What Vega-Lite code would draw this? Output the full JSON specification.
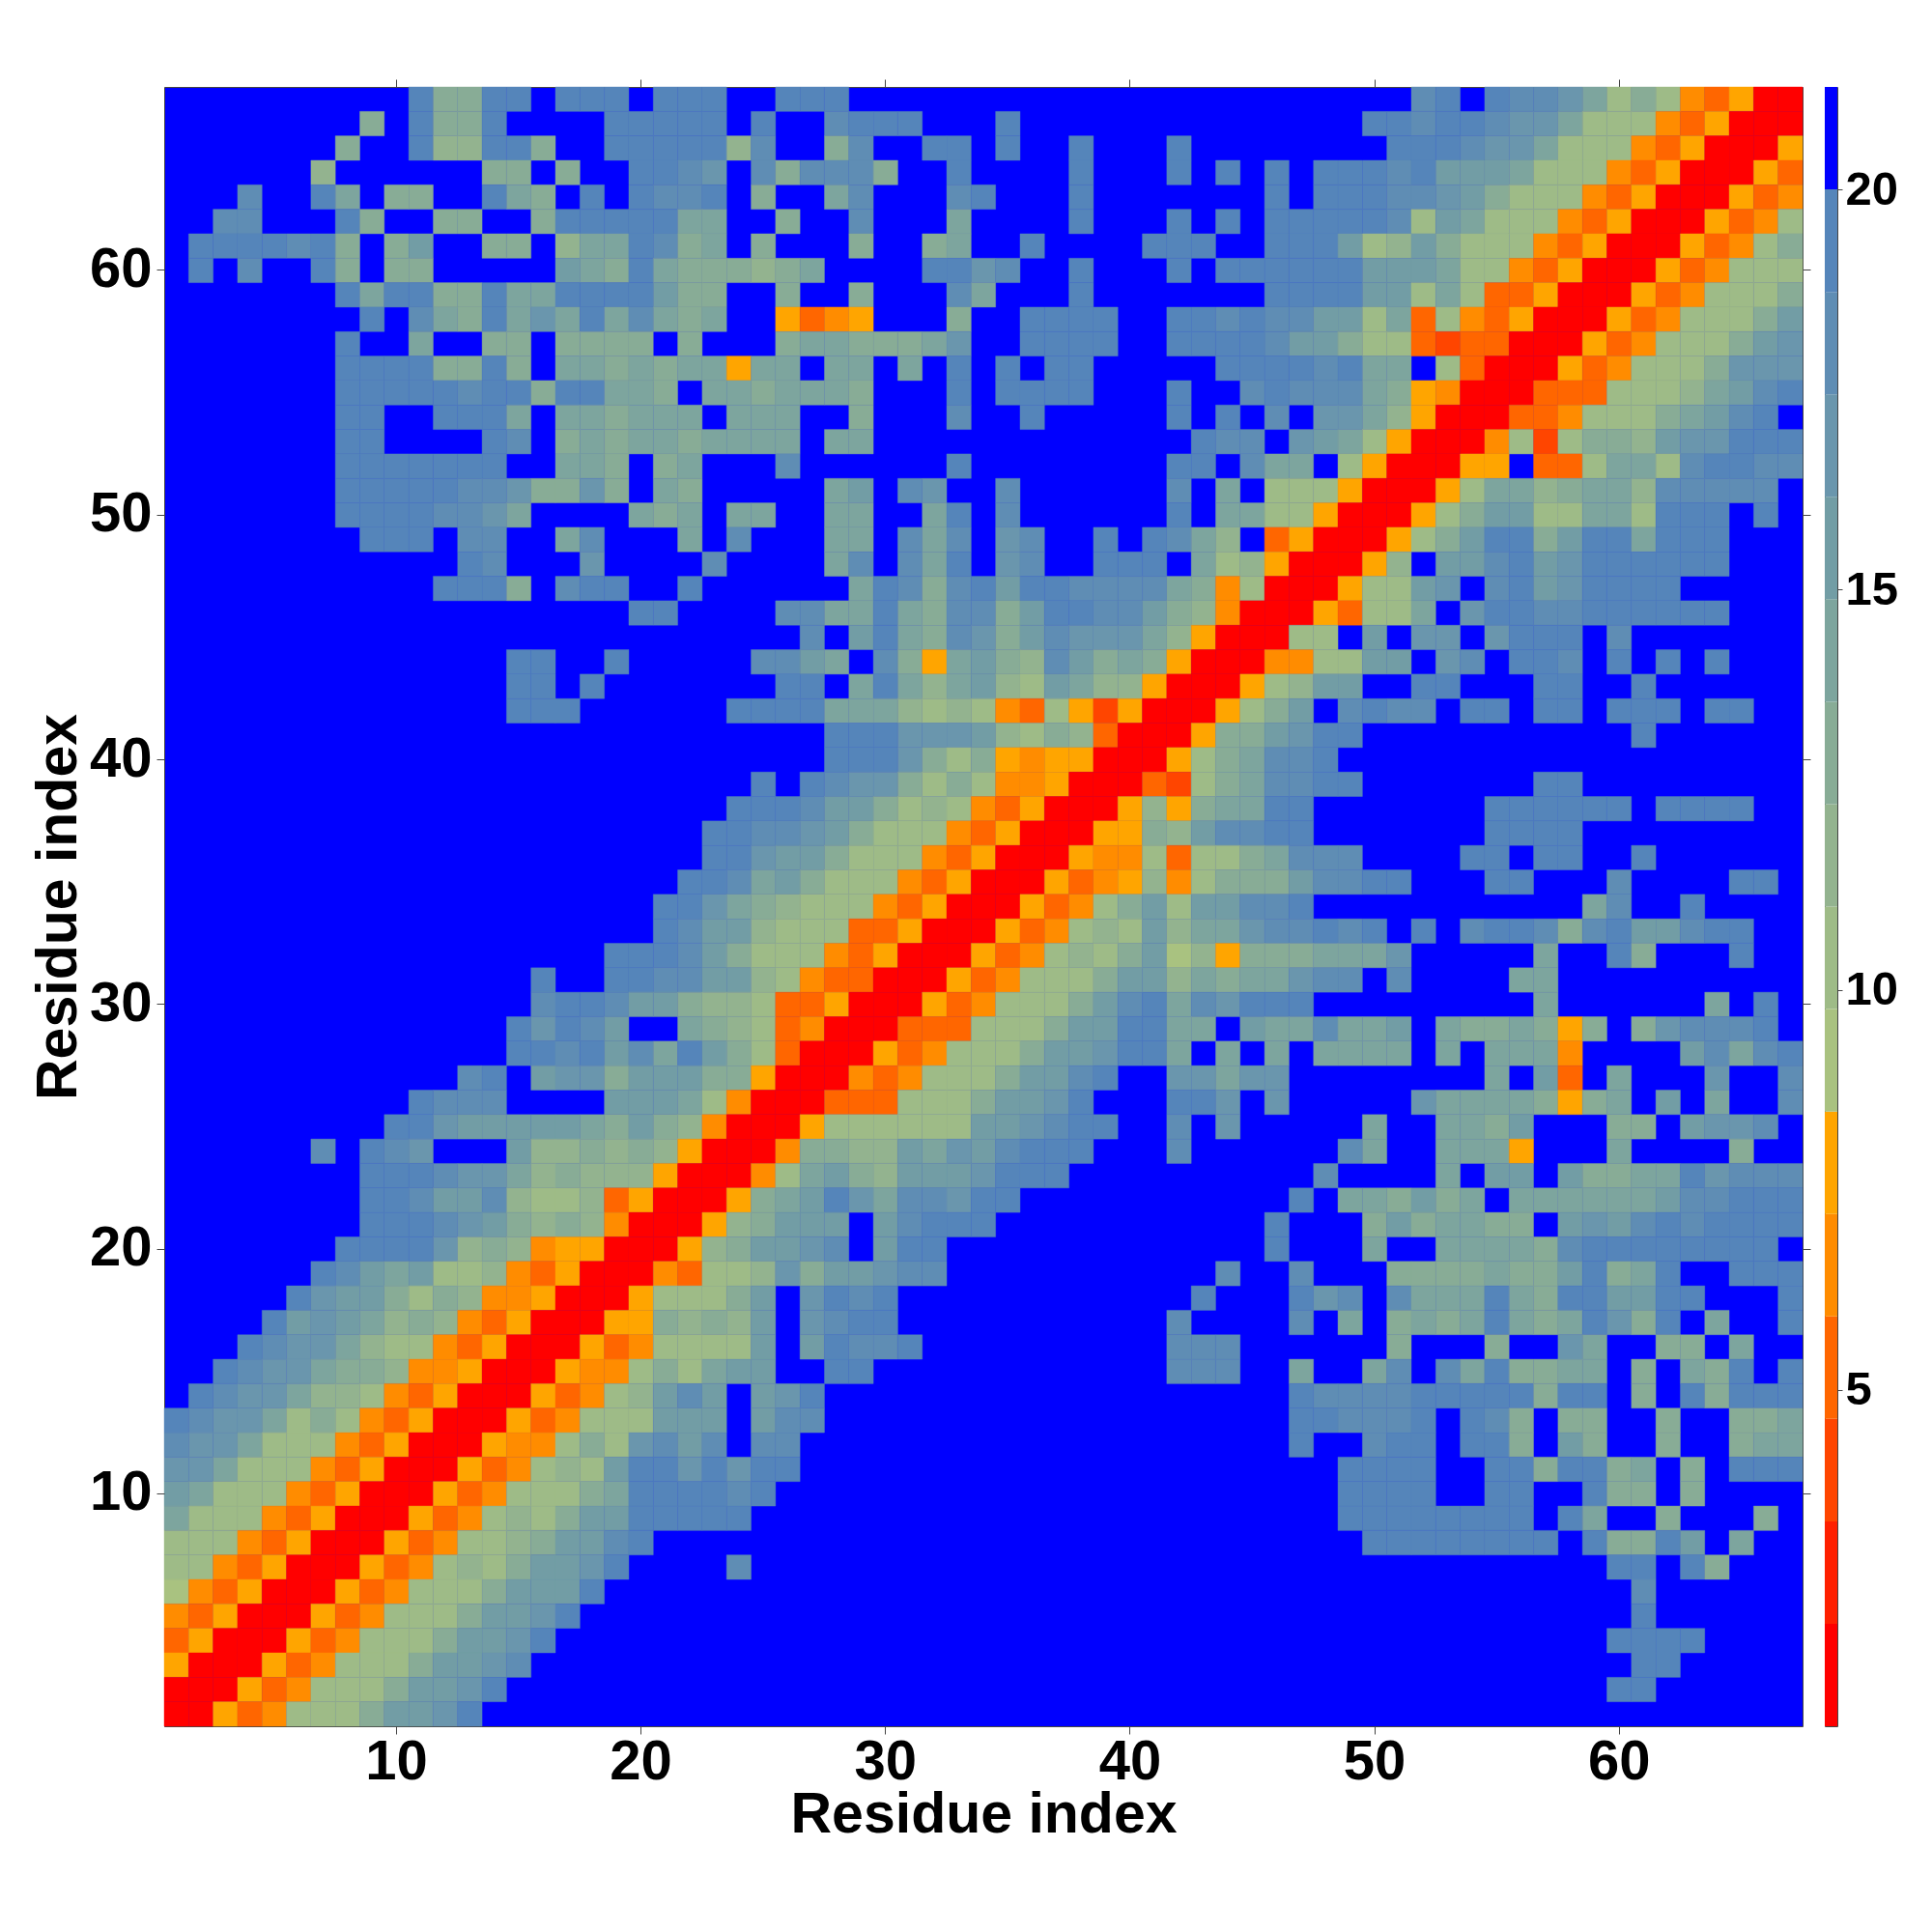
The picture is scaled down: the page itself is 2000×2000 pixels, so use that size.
{"$schema":"https://vega.github.io/schema/vega-lite/v6.json","background":"white","padding":{"left":30,"top":81,"right":0,"bottom":0},"spacing":13,"config":{"view":{"continuousWidth":13},"axis":{"labelFont":"Liberation Sans","titleFont":"Liberation Sans","labelFontWeight":"bold","titleFontWeight":"bold","labelColor":"black","titleColor":"black","tickColor":"#444444","tickWidth":1,"tickSize":8,"domain":false,"grid":false}},"datasets":{"cells":[
{"x":11,"y":67,"v":19},{"x":12,"y":67,"v":13},{"x":13,"y":67,"v":13},{"x":14,"y":67,"v":19},{"x":15,"y":67,"v":19},{"x":17,"y":67,"v":19},{"x":18,"y":67,"v":19},{"x":19,"y":67,"v":19},{"x":21,"y":67,"v":19},{"x":22,"y":67,"v":19},{"x":23,"y":67,"v":19},{"x":26,"y":67,"v":19},{"x":27,"y":67,"v":19},{"x":28,"y":67,"v":19},{"x":52,"y":67,"v":18},{"x":53,"y":67,"v":19},{"x":55,"y":67,"v":19},{"x":56,"y":67,"v":18},{"x":57,"y":67,"v":18},{"x":58,"y":67,"v":17},{"x":59,"y":67,"v":14},{"x":60,"y":67,"v":10},{"x":61,"y":67,"v":13},{"x":62,"y":67,"v":10},{"x":63,"y":67,"v":7},{"x":64,"y":67,"v":5},{"x":65,"y":67,"v":8},{"x":66,"y":67,"v":1},{"x":67,"y":67,"v":1},
{"x":9,"y":66,"v":13},{"x":11,"y":66,"v":19},{"x":12,"y":66,"v":13},{"x":13,"y":66,"v":13},{"x":14,"y":66,"v":19},{"x":19,"y":66,"v":19},{"x":20,"y":66,"v":19},{"x":21,"y":66,"v":19},{"x":22,"y":66,"v":19},{"x":23,"y":66,"v":19},{"x":25,"y":66,"v":19},{"x":28,"y":66,"v":18},{"x":29,"y":66,"v":19},{"x":30,"y":66,"v":19},{"x":31,"y":66,"v":19},{"x":35,"y":66,"v":19},{"x":50,"y":66,"v":19},{"x":51,"y":66,"v":19},{"x":52,"y":66,"v":18},{"x":53,"y":66,"v":19},{"x":54,"y":66,"v":19},{"x":55,"y":66,"v":18},{"x":56,"y":66,"v":17},{"x":57,"y":66,"v":17},{"x":58,"y":66,"v":14},{"x":59,"y":66,"v":10},{"x":60,"y":66,"v":10},{"x":61,"y":66,"v":10},{"x":62,"y":66,"v":7},{"x":63,"y":66,"v":5},{"x":64,"y":66,"v":8},{"x":65,"y":66,"v":1},{"x":66,"y":66,"v":1},{"x":67,"y":66,"v":1},
{"x":8,"y":65,"v":13},{"x":11,"y":65,"v":19},{"x":12,"y":65,"v":12},{"x":13,"y":65,"v":12},{"x":14,"y":65,"v":19},{"x":15,"y":65,"v":19},{"x":16,"y":65,"v":13},{"x":19,"y":65,"v":19},{"x":20,"y":65,"v":19},{"x":21,"y":65,"v":19},{"x":22,"y":65,"v":19},{"x":23,"y":65,"v":19},{"x":24,"y":65,"v":12},{"x":25,"y":65,"v":18},{"x":28,"y":65,"v":13},{"x":29,"y":65,"v":18},{"x":32,"y":65,"v":19},{"x":33,"y":65,"v":19},{"x":35,"y":65,"v":19},{"x":38,"y":65,"v":19},{"x":42,"y":65,"v":19},{"x":51,"y":65,"v":19},{"x":52,"y":65,"v":19},{"x":53,"y":65,"v":19},{"x":54,"y":65,"v":18},{"x":55,"y":65,"v":17},{"x":56,"y":65,"v":17},{"x":57,"y":65,"v":14},{"x":58,"y":65,"v":10},{"x":59,"y":65,"v":10},{"x":60,"y":65,"v":10},{"x":61,"y":65,"v":7},{"x":62,"y":65,"v":5},{"x":63,"y":65,"v":8},{"x":64,"y":65,"v":1},{"x":65,"y":65,"v":1},{"x":66,"y":65,"v":1},{"x":67,"y":65,"v":8},
{"x":7,"y":64,"v":12},{"x":14,"y":64,"v":13},{"x":15,"y":64,"v":13},{"x":17,"y":64,"v":13},{"x":20,"y":64,"v":19},{"x":21,"y":64,"v":19},{"x":22,"y":64,"v":18},{"x":23,"y":64,"v":17},{"x":25,"y":64,"v":18},{"x":26,"y":64,"v":13},{"x":27,"y":64,"v":18},{"x":28,"y":64,"v":18},{"x":29,"y":64,"v":18},{"x":30,"y":64,"v":13},{"x":33,"y":64,"v":19},{"x":38,"y":64,"v":19},{"x":42,"y":64,"v":19},{"x":44,"y":64,"v":19},{"x":46,"y":64,"v":19},{"x":48,"y":64,"v":19},{"x":49,"y":64,"v":19},{"x":50,"y":64,"v":19},{"x":51,"y":64,"v":18},{"x":52,"y":64,"v":19},{"x":53,"y":64,"v":16},{"x":54,"y":64,"v":16},{"x":55,"y":64,"v":16},{"x":56,"y":64,"v":14},{"x":57,"y":64,"v":10},{"x":58,"y":64,"v":10},{"x":59,"y":64,"v":10},{"x":60,"y":64,"v":7},{"x":61,"y":64,"v":5},{"x":62,"y":64,"v":8},{"x":63,"y":64,"v":1},{"x":64,"y":64,"v":1},{"x":65,"y":64,"v":1},{"x":66,"y":64,"v":8},{"x":67,"y":64,"v":5},
{"x":4,"y":63,"v":18},{"x":7,"y":63,"v":19},{"x":8,"y":63,"v":14},{"x":10,"y":63,"v":13},{"x":11,"y":63,"v":13},{"x":14,"y":63,"v":19},{"x":15,"y":63,"v":14},{"x":16,"y":63,"v":13},{"x":18,"y":63,"v":19},{"x":20,"y":63,"v":19},{"x":21,"y":63,"v":18},{"x":22,"y":63,"v":18},{"x":23,"y":63,"v":19},{"x":25,"y":63,"v":13},{"x":28,"y":63,"v":14},{"x":29,"y":63,"v":18},{"x":33,"y":63,"v":18},{"x":34,"y":63,"v":19},{"x":38,"y":63,"v":19},{"x":46,"y":63,"v":19},{"x":48,"y":63,"v":19},{"x":49,"y":63,"v":19},{"x":50,"y":63,"v":19},{"x":51,"y":63,"v":18},{"x":52,"y":63,"v":18},{"x":53,"y":63,"v":17},{"x":54,"y":63,"v":16},{"x":55,"y":63,"v":13},{"x":56,"y":63,"v":10},{"x":57,"y":63,"v":10},{"x":58,"y":63,"v":10},{"x":59,"y":63,"v":7},{"x":60,"y":63,"v":5},{"x":61,"y":63,"v":8},{"x":62,"y":63,"v":1},{"x":63,"y":63,"v":1},{"x":64,"y":63,"v":1},{"x":65,"y":63,"v":8},{"x":66,"y":63,"v":5},{"x":67,"y":63,"v":7},
{"x":3,"y":62,"v":18},{"x":4,"y":62,"v":18},{"x":8,"y":62,"v":19},{"x":9,"y":62,"v":13},{"x":12,"y":62,"v":13},{"x":13,"y":62,"v":13},{"x":16,"y":62,"v":13},{"x":17,"y":62,"v":19},{"x":18,"y":62,"v":19},{"x":19,"y":62,"v":19},{"x":20,"y":62,"v":19},{"x":21,"y":62,"v":19},{"x":22,"y":62,"v":14},{"x":23,"y":62,"v":14},{"x":26,"y":62,"v":13},{"x":29,"y":62,"v":18},{"x":33,"y":62,"v":14},{"x":38,"y":62,"v":19},{"x":42,"y":62,"v":19},{"x":44,"y":62,"v":19},{"x":46,"y":62,"v":19},{"x":47,"y":62,"v":19},{"x":48,"y":62,"v":19},{"x":49,"y":62,"v":19},{"x":50,"y":62,"v":19},{"x":51,"y":62,"v":18},{"x":52,"y":62,"v":10},{"x":53,"y":62,"v":16},{"x":54,"y":62,"v":14},{"x":55,"y":62,"v":10},{"x":56,"y":62,"v":10},{"x":57,"y":62,"v":10},{"x":58,"y":62,"v":7},{"x":59,"y":62,"v":5},{"x":60,"y":62,"v":8},{"x":61,"y":62,"v":1},{"x":62,"y":62,"v":1},{"x":63,"y":62,"v":1},{"x":64,"y":62,"v":8},{"x":65,"y":62,"v":5},{"x":66,"y":62,"v":7},{"x":67,"y":62,"v":10},
{"x":2,"y":61,"v":19},{"x":3,"y":61,"v":19},{"x":4,"y":61,"v":19},{"x":5,"y":61,"v":19},{"x":6,"y":61,"v":18},{"x":7,"y":61,"v":19},{"x":8,"y":61,"v":13},{"x":10,"y":61,"v":13},{"x":11,"y":61,"v":16},{"x":14,"y":61,"v":13},{"x":15,"y":61,"v":13},{"x":17,"y":61,"v":12},{"x":18,"y":61,"v":14},{"x":19,"y":61,"v":14},{"x":20,"y":61,"v":19},{"x":21,"y":61,"v":18},{"x":22,"y":61,"v":13},{"x":23,"y":61,"v":14},{"x":25,"y":61,"v":13},{"x":29,"y":61,"v":13},{"x":32,"y":61,"v":13},{"x":33,"y":61,"v":14},{"x":36,"y":61,"v":19},{"x":41,"y":61,"v":19},{"x":42,"y":61,"v":19},{"x":43,"y":61,"v":19},{"x":46,"y":61,"v":19},{"x":47,"y":61,"v":19},{"x":48,"y":61,"v":19},{"x":49,"y":61,"v":16},{"x":50,"y":61,"v":10},{"x":51,"y":61,"v":12},{"x":52,"y":61,"v":16},{"x":53,"y":61,"v":13},{"x":54,"y":61,"v":10},{"x":55,"y":61,"v":10},{"x":56,"y":61,"v":10},{"x":57,"y":61,"v":7},{"x":58,"y":61,"v":5},{"x":59,"y":61,"v":8},{"x":60,"y":61,"v":1},{"x":61,"y":61,"v":1},{"x":62,"y":61,"v":1},{"x":63,"y":61,"v":8},{"x":64,"y":61,"v":5},{"x":65,"y":61,"v":7},{"x":66,"y":61,"v":10},{"x":67,"y":61,"v":13},
{"x":2,"y":60,"v":19},{"x":4,"y":60,"v":18},{"x":7,"y":60,"v":19},{"x":8,"y":60,"v":13},{"x":10,"y":60,"v":13},{"x":11,"y":60,"v":13},{"x":17,"y":60,"v":16},{"x":18,"y":60,"v":14},{"x":19,"y":60,"v":13},{"x":20,"y":60,"v":19},{"x":21,"y":60,"v":14},{"x":22,"y":60,"v":13},{"x":23,"y":60,"v":13},{"x":24,"y":60,"v":13},{"x":25,"y":60,"v":12},{"x":26,"y":60,"v":13},{"x":27,"y":60,"v":14},{"x":32,"y":60,"v":19},{"x":33,"y":60,"v":19},{"x":34,"y":60,"v":17},{"x":35,"y":60,"v":18},{"x":38,"y":60,"v":19},{"x":42,"y":60,"v":19},{"x":44,"y":60,"v":19},{"x":45,"y":60,"v":19},{"x":46,"y":60,"v":19},{"x":47,"y":60,"v":19},{"x":48,"y":60,"v":19},{"x":49,"y":60,"v":19},{"x":50,"y":60,"v":16},{"x":51,"y":60,"v":16},{"x":52,"y":60,"v":16},{"x":53,"y":60,"v":14},{"x":54,"y":60,"v":10},{"x":55,"y":60,"v":10},{"x":56,"y":60,"v":7},{"x":57,"y":60,"v":5},{"x":58,"y":60,"v":8},{"x":59,"y":60,"v":1},{"x":60,"y":60,"v":1},{"x":61,"y":60,"v":1},{"x":62,"y":60,"v":8},{"x":63,"y":60,"v":5},{"x":64,"y":60,"v":7},{"x":65,"y":60,"v":10},{"x":66,"y":60,"v":10},{"x":67,"y":60,"v":10},
{"x":8,"y":59,"v":19},{"x":9,"y":59,"v":14},{"x":10,"y":59,"v":19},{"x":11,"y":59,"v":19},{"x":12,"y":59,"v":13},{"x":13,"y":59,"v":13},{"x":14,"y":59,"v":19},{"x":15,"y":59,"v":14},{"x":16,"y":59,"v":14},{"x":17,"y":59,"v":19},{"x":18,"y":59,"v":19},{"x":19,"y":59,"v":19},{"x":20,"y":59,"v":19},{"x":21,"y":59,"v":16},{"x":22,"y":59,"v":13},{"x":23,"y":59,"v":13},{"x":26,"y":59,"v":13},{"x":29,"y":59,"v":13},{"x":33,"y":59,"v":18},{"x":34,"y":59,"v":14},{"x":38,"y":59,"v":19},{"x":46,"y":59,"v":19},{"x":47,"y":59,"v":19},{"x":48,"y":59,"v":19},{"x":49,"y":59,"v":19},{"x":50,"y":59,"v":16},{"x":51,"y":59,"v":16},{"x":52,"y":59,"v":10},{"x":53,"y":59,"v":14},{"x":54,"y":59,"v":10},{"x":55,"y":59,"v":5},{"x":56,"y":59,"v":5},{"x":57,"y":59,"v":8},{"x":58,"y":59,"v":1},{"x":59,"y":59,"v":1},{"x":60,"y":59,"v":1},{"x":61,"y":59,"v":8},{"x":62,"y":59,"v":5},{"x":63,"y":59,"v":7},{"x":64,"y":59,"v":10},{"x":65,"y":59,"v":10},{"x":66,"y":59,"v":10},{"x":67,"y":59,"v":13},
{"x":9,"y":58,"v":19},{"x":11,"y":58,"v":18},{"x":12,"y":58,"v":14},{"x":13,"y":58,"v":13},{"x":14,"y":58,"v":19},{"x":15,"y":58,"v":14},{"x":16,"y":58,"v":17},{"x":17,"y":58,"v":14},{"x":18,"y":58,"v":19},{"x":19,"y":58,"v":14},{"x":20,"y":58,"v":18},{"x":21,"y":58,"v":14},{"x":22,"y":58,"v":13},{"x":23,"y":58,"v":14},{"x":26,"y":58,"v":8},{"x":27,"y":58,"v":5},{"x":28,"y":58,"v":7},{"x":29,"y":58,"v":8},{"x":33,"y":58,"v":13},{"x":36,"y":58,"v":19},{"x":37,"y":58,"v":19},{"x":38,"y":58,"v":19},{"x":39,"y":58,"v":19},{"x":42,"y":58,"v":19},{"x":43,"y":58,"v":19},{"x":44,"y":58,"v":18},{"x":45,"y":58,"v":19},{"x":46,"y":58,"v":18},{"x":47,"y":58,"v":18},{"x":48,"y":58,"v":16},{"x":49,"y":58,"v":16},{"x":50,"y":58,"v":10},{"x":51,"y":58,"v":14},{"x":52,"y":58,"v":5},{"x":53,"y":58,"v":10},{"x":54,"y":58,"v":7},{"x":55,"y":58,"v":5},{"x":56,"y":58,"v":8},{"x":57,"y":58,"v":1},{"x":58,"y":58,"v":1},{"x":59,"y":58,"v":1},{"x":60,"y":58,"v":8},{"x":61,"y":58,"v":5},{"x":62,"y":58,"v":7},{"x":63,"y":58,"v":10},{"x":64,"y":58,"v":10},{"x":65,"y":58,"v":10},{"x":66,"y":58,"v":13},{"x":67,"y":58,"v":16},
{"x":8,"y":57,"v":19},{"x":11,"y":57,"v":14},{"x":14,"y":57,"v":13},{"x":15,"y":57,"v":13},{"x":17,"y":57,"v":13},{"x":18,"y":57,"v":13},{"x":19,"y":57,"v":13},{"x":20,"y":57,"v":13},{"x":22,"y":57,"v":13},{"x":26,"y":57,"v":13},{"x":27,"y":57,"v":14},{"x":28,"y":57,"v":14},{"x":29,"y":57,"v":13},{"x":30,"y":57,"v":13},{"x":31,"y":57,"v":13},{"x":32,"y":57,"v":14},{"x":33,"y":57,"v":17},{"x":36,"y":57,"v":19},{"x":37,"y":57,"v":19},{"x":38,"y":57,"v":19},{"x":39,"y":57,"v":19},{"x":42,"y":57,"v":19},{"x":43,"y":57,"v":19},{"x":44,"y":57,"v":19},{"x":45,"y":57,"v":19},{"x":46,"y":57,"v":18},{"x":47,"y":57,"v":16},{"x":48,"y":57,"v":16},{"x":49,"y":57,"v":13},{"x":50,"y":57,"v":10},{"x":51,"y":57,"v":10},{"x":52,"y":57,"v":5},{"x":53,"y":57,"v":4},{"x":54,"y":57,"v":5},{"x":55,"y":57,"v":5},{"x":56,"y":57,"v":1},{"x":57,"y":57,"v":1},{"x":58,"y":57,"v":1},{"x":59,"y":57,"v":8},{"x":60,"y":57,"v":5},{"x":61,"y":57,"v":7},{"x":62,"y":57,"v":10},{"x":63,"y":57,"v":10},{"x":64,"y":57,"v":10},{"x":65,"y":57,"v":13},{"x":66,"y":57,"v":16},{"x":67,"y":57,"v":17},
{"x":8,"y":56,"v":19},{"x":9,"y":56,"v":19},{"x":10,"y":56,"v":19},{"x":11,"y":56,"v":19},{"x":12,"y":56,"v":13},{"x":13,"y":56,"v":13},{"x":14,"y":56,"v":19},{"x":15,"y":56,"v":13},{"x":17,"y":56,"v":14},{"x":18,"y":56,"v":14},{"x":19,"y":56,"v":13},{"x":20,"y":56,"v":14},{"x":21,"y":56,"v":13},{"x":22,"y":56,"v":14},{"x":23,"y":56,"v":14},{"x":24,"y":56,"v":8},{"x":25,"y":56,"v":14},{"x":26,"y":56,"v":14},{"x":28,"y":56,"v":14},{"x":29,"y":56,"v":14},{"x":31,"y":56,"v":14},{"x":33,"y":56,"v":19},{"x":35,"y":56,"v":19},{"x":37,"y":56,"v":19},{"x":38,"y":56,"v":19},{"x":44,"y":56,"v":19},{"x":45,"y":56,"v":19},{"x":46,"y":56,"v":19},{"x":47,"y":56,"v":19},{"x":48,"y":56,"v":18},{"x":49,"y":56,"v":19},{"x":50,"y":56,"v":14},{"x":51,"y":56,"v":14},{"x":53,"y":56,"v":10},{"x":54,"y":56,"v":5},{"x":55,"y":56,"v":1},{"x":56,"y":56,"v":1},{"x":57,"y":56,"v":1},{"x":58,"y":56,"v":8},{"x":59,"y":56,"v":5},{"x":60,"y":56,"v":7},{"x":61,"y":56,"v":10},{"x":62,"y":56,"v":10},{"x":63,"y":56,"v":10},{"x":64,"y":56,"v":13},{"x":65,"y":56,"v":17},{"x":66,"y":56,"v":17},{"x":67,"y":56,"v":17},
{"x":8,"y":55,"v":19},{"x":9,"y":55,"v":19},{"x":10,"y":55,"v":19},{"x":11,"y":55,"v":19},{"x":12,"y":55,"v":19},{"x":13,"y":55,"v":18},{"x":14,"y":55,"v":19},{"x":15,"y":55,"v":19},{"x":16,"y":55,"v":13},{"x":17,"y":55,"v":19},{"x":18,"y":55,"v":19},{"x":19,"y":55,"v":14},{"x":20,"y":55,"v":14},{"x":21,"y":55,"v":13},{"x":23,"y":55,"v":14},{"x":24,"y":55,"v":14},{"x":25,"y":55,"v":13},{"x":26,"y":55,"v":14},{"x":27,"y":55,"v":14},{"x":28,"y":55,"v":14},{"x":29,"y":55,"v":13},{"x":33,"y":55,"v":19},{"x":35,"y":55,"v":19},{"x":36,"y":55,"v":19},{"x":37,"y":55,"v":19},{"x":38,"y":55,"v":19},{"x":42,"y":55,"v":19},{"x":45,"y":55,"v":18},{"x":46,"y":55,"v":19},{"x":47,"y":55,"v":18},{"x":48,"y":55,"v":18},{"x":49,"y":55,"v":18},{"x":50,"y":55,"v":14},{"x":51,"y":55,"v":13},{"x":52,"y":55,"v":8},{"x":53,"y":55,"v":7},{"x":54,"y":55,"v":1},{"x":55,"y":55,"v":1},{"x":56,"y":55,"v":1},{"x":57,"y":55,"v":5},{"x":58,"y":55,"v":5},{"x":59,"y":55,"v":5},{"x":60,"y":55,"v":10},{"x":61,"y":55,"v":10},{"x":62,"y":55,"v":10},{"x":63,"y":55,"v":12},{"x":64,"y":55,"v":14},{"x":65,"y":55,"v":16},{"x":66,"y":55,"v":18},{"x":67,"y":55,"v":19},
{"x":8,"y":54,"v":19},{"x":9,"y":54,"v":19},{"x":12,"y":54,"v":19},{"x":13,"y":54,"v":19},{"x":14,"y":54,"v":19},{"x":15,"y":54,"v":14},{"x":17,"y":54,"v":14},{"x":18,"y":54,"v":14},{"x":19,"y":54,"v":13},{"x":20,"y":54,"v":14},{"x":21,"y":54,"v":14},{"x":22,"y":54,"v":14},{"x":24,"y":54,"v":14},{"x":25,"y":54,"v":14},{"x":26,"y":54,"v":14},{"x":29,"y":54,"v":13},{"x":33,"y":54,"v":18},{"x":36,"y":54,"v":19},{"x":42,"y":54,"v":19},{"x":44,"y":54,"v":19},{"x":46,"y":54,"v":18},{"x":48,"y":54,"v":17},{"x":49,"y":54,"v":17},{"x":50,"y":54,"v":14},{"x":51,"y":54,"v":12},{"x":52,"y":54,"v":8},{"x":53,"y":54,"v":1},{"x":54,"y":54,"v":1},{"x":55,"y":54,"v":1},{"x":56,"y":54,"v":5},{"x":57,"y":54,"v":5},{"x":58,"y":54,"v":7},{"x":59,"y":54,"v":10},{"x":60,"y":54,"v":10},{"x":61,"y":54,"v":10},{"x":62,"y":54,"v":13},{"x":63,"y":54,"v":14},{"x":64,"y":54,"v":16},{"x":65,"y":54,"v":18},{"x":66,"y":54,"v":19},
{"x":8,"y":53,"v":19},{"x":9,"y":53,"v":19},{"x":14,"y":53,"v":19},{"x":15,"y":53,"v":18},{"x":17,"y":53,"v":13},{"x":18,"y":53,"v":14},{"x":19,"y":53,"v":13},{"x":20,"y":53,"v":14},{"x":21,"y":53,"v":14},{"x":22,"y":53,"v":13},{"x":23,"y":53,"v":14},{"x":24,"y":53,"v":14},{"x":25,"y":53,"v":14},{"x":26,"y":53,"v":14},{"x":28,"y":53,"v":14},{"x":29,"y":53,"v":14},{"x":43,"y":53,"v":19},{"x":44,"y":53,"v":18},{"x":45,"y":53,"v":18},{"x":47,"y":53,"v":17},{"x":48,"y":53,"v":16},{"x":49,"y":53,"v":14},{"x":50,"y":53,"v":10},{"x":51,"y":53,"v":8},{"x":52,"y":53,"v":1},{"x":53,"y":53,"v":1},{"x":54,"y":53,"v":1},{"x":55,"y":53,"v":7},{"x":56,"y":53,"v":10},{"x":57,"y":53,"v":4},{"x":58,"y":53,"v":10},{"x":59,"y":53,"v":13},{"x":60,"y":53,"v":13},{"x":61,"y":53,"v":12},{"x":62,"y":53,"v":16},{"x":63,"y":53,"v":17},{"x":64,"y":53,"v":17},{"x":65,"y":53,"v":19},{"x":66,"y":53,"v":19},{"x":67,"y":53,"v":19},
{"x":8,"y":52,"v":19},{"x":9,"y":52,"v":19},{"x":10,"y":52,"v":19},{"x":11,"y":52,"v":19},{"x":12,"y":52,"v":19},{"x":13,"y":52,"v":19},{"x":14,"y":52,"v":19},{"x":17,"y":52,"v":14},{"x":18,"y":52,"v":14},{"x":19,"y":52,"v":13},{"x":21,"y":52,"v":13},{"x":22,"y":52,"v":14},{"x":26,"y":52,"v":18},{"x":33,"y":52,"v":19},{"x":42,"y":52,"v":19},{"x":43,"y":52,"v":19},{"x":45,"y":52,"v":18},{"x":46,"y":52,"v":14},{"x":47,"y":52,"v":14},{"x":49,"y":52,"v":10},{"x":50,"y":52,"v":8},{"x":51,"y":52,"v":1},{"x":52,"y":52,"v":1},{"x":53,"y":52,"v":1},{"x":54,"y":52,"v":8},{"x":55,"y":52,"v":8},{"x":57,"y":52,"v":5},{"x":58,"y":52,"v":5},{"x":59,"y":52,"v":10},{"x":60,"y":52,"v":14},{"x":61,"y":52,"v":14},{"x":62,"y":52,"v":10},{"x":63,"y":52,"v":18},{"x":64,"y":52,"v":19},{"x":65,"y":52,"v":19},{"x":66,"y":52,"v":18},{"x":67,"y":52,"v":18},
{"x":8,"y":51,"v":19},{"x":9,"y":51,"v":19},{"x":10,"y":51,"v":19},{"x":11,"y":51,"v":19},{"x":12,"y":51,"v":19},{"x":13,"y":51,"v":18},{"x":14,"y":51,"v":18},{"x":15,"y":51,"v":17},{"x":16,"y":51,"v":13},{"x":17,"y":51,"v":13},{"x":18,"y":51,"v":17},{"x":19,"y":51,"v":13},{"x":21,"y":51,"v":14},{"x":22,"y":51,"v":13},{"x":28,"y":51,"v":14},{"x":29,"y":51,"v":16},{"x":31,"y":51,"v":18},{"x":32,"y":51,"v":17},{"x":35,"y":51,"v":18},{"x":42,"y":51,"v":18},{"x":44,"y":51,"v":14},{"x":46,"y":51,"v":10},{"x":47,"y":51,"v":10},{"x":48,"y":51,"v":10},{"x":49,"y":51,"v":8},{"x":50,"y":51,"v":1},{"x":51,"y":51,"v":1},{"x":52,"y":51,"v":1},{"x":53,"y":51,"v":8},{"x":54,"y":51,"v":10},{"x":55,"y":51,"v":14},{"x":56,"y":51,"v":14},{"x":57,"y":51,"v":12},{"x":58,"y":51,"v":13},{"x":59,"y":51,"v":14},{"x":60,"y":51,"v":14},{"x":61,"y":51,"v":12},{"x":62,"y":51,"v":18},{"x":63,"y":51,"v":18},{"x":64,"y":51,"v":18},{"x":65,"y":51,"v":18},{"x":66,"y":51,"v":18},
{"x":8,"y":50,"v":19},{"x":9,"y":50,"v":19},{"x":10,"y":50,"v":19},{"x":11,"y":50,"v":19},{"x":12,"y":50,"v":18},{"x":13,"y":50,"v":18},{"x":14,"y":50,"v":17},{"x":15,"y":50,"v":14},{"x":20,"y":50,"v":14},{"x":21,"y":50,"v":13},{"x":22,"y":50,"v":14},{"x":24,"y":50,"v":14},{"x":25,"y":50,"v":14},{"x":28,"y":50,"v":14},{"x":29,"y":50,"v":14},{"x":32,"y":50,"v":14},{"x":33,"y":50,"v":19},{"x":35,"y":50,"v":18},{"x":42,"y":50,"v":19},{"x":44,"y":50,"v":14},{"x":45,"y":50,"v":14},{"x":46,"y":50,"v":10},{"x":47,"y":50,"v":10},{"x":48,"y":50,"v":8},{"x":49,"y":50,"v":1},{"x":50,"y":50,"v":1},{"x":51,"y":50,"v":1},{"x":52,"y":50,"v":8},{"x":53,"y":50,"v":10},{"x":54,"y":50,"v":13},{"x":55,"y":50,"v":16},{"x":56,"y":50,"v":16},{"x":57,"y":50,"v":10},{"x":58,"y":50,"v":10},{"x":59,"y":50,"v":14},{"x":60,"y":50,"v":14},{"x":61,"y":50,"v":10},{"x":62,"y":50,"v":19},{"x":63,"y":50,"v":19},{"x":64,"y":50,"v":19},{"x":66,"y":50,"v":19},
{"x":9,"y":49,"v":19},{"x":10,"y":49,"v":19},{"x":11,"y":49,"v":19},{"x":13,"y":49,"v":18},{"x":14,"y":49,"v":18},{"x":17,"y":49,"v":14},{"x":18,"y":49,"v":18},{"x":22,"y":49,"v":14},{"x":24,"y":49,"v":18},{"x":28,"y":49,"v":14},{"x":29,"y":49,"v":14},{"x":31,"y":49,"v":18},{"x":32,"y":49,"v":14},{"x":33,"y":49,"v":18},{"x":35,"y":49,"v":17},{"x":36,"y":49,"v":18},{"x":39,"y":49,"v":19},{"x":41,"y":49,"v":19},{"x":42,"y":49,"v":18},{"x":43,"y":49,"v":14},{"x":44,"y":49,"v":12},{"x":46,"y":49,"v":5},{"x":47,"y":49,"v":8},{"x":48,"y":49,"v":1},{"x":49,"y":49,"v":1},{"x":50,"y":49,"v":1},{"x":51,"y":49,"v":8},{"x":52,"y":49,"v":10},{"x":53,"y":49,"v":13},{"x":54,"y":49,"v":16},{"x":55,"y":49,"v":19},{"x":56,"y":49,"v":19},{"x":57,"y":49,"v":13},{"x":58,"y":49,"v":16},{"x":59,"y":49,"v":19},{"x":60,"y":49,"v":19},{"x":61,"y":49,"v":14},{"x":62,"y":49,"v":19},{"x":63,"y":49,"v":19},{"x":64,"y":49,"v":19},
{"x":13,"y":48,"v":19},{"x":14,"y":48,"v":18},{"x":18,"y":48,"v":17},{"x":23,"y":48,"v":18},{"x":28,"y":48,"v":14},{"x":29,"y":48,"v":18},{"x":31,"y":48,"v":18},{"x":32,"y":48,"v":14},{"x":33,"y":48,"v":19},{"x":35,"y":48,"v":17},{"x":36,"y":48,"v":18},{"x":39,"y":48,"v":19},{"x":40,"y":48,"v":19},{"x":41,"y":48,"v":19},{"x":43,"y":48,"v":14},{"x":44,"y":48,"v":10},{"x":45,"y":48,"v":12},{"x":46,"y":48,"v":8},{"x":47,"y":48,"v":1},{"x":48,"y":48,"v":1},{"x":49,"y":48,"v":1},{"x":50,"y":48,"v":8},{"x":51,"y":48,"v":12},{"x":53,"y":48,"v":16},{"x":54,"y":48,"v":16},{"x":55,"y":48,"v":18},{"x":56,"y":48,"v":19},{"x":57,"y":48,"v":16},{"x":58,"y":48,"v":17},{"x":59,"y":48,"v":19},{"x":60,"y":48,"v":19},{"x":61,"y":48,"v":19},{"x":62,"y":48,"v":19},{"x":63,"y":48,"v":19},{"x":64,"y":48,"v":19},
{"x":12,"y":47,"v":19},{"x":13,"y":47,"v":19},{"x":14,"y":47,"v":19},{"x":15,"y":47,"v":13},{"x":17,"y":47,"v":18},{"x":18,"y":47,"v":19},{"x":19,"y":47,"v":19},{"x":22,"y":47,"v":19},{"x":29,"y":47,"v":14},{"x":30,"y":47,"v":19},{"x":31,"y":47,"v":18},{"x":32,"y":47,"v":13},{"x":33,"y":47,"v":18},{"x":34,"y":47,"v":19},{"x":35,"y":47,"v":16},{"x":36,"y":47,"v":19},{"x":37,"y":47,"v":19},{"x":38,"y":47,"v":18},{"x":39,"y":47,"v":18},{"x":40,"y":47,"v":18},{"x":41,"y":47,"v":18},{"x":42,"y":47,"v":14},{"x":43,"y":47,"v":13},{"x":44,"y":47,"v":7},{"x":45,"y":47,"v":10},{"x":46,"y":47,"v":1},{"x":47,"y":47,"v":1},{"x":48,"y":47,"v":1},{"x":49,"y":47,"v":8},{"x":50,"y":47,"v":10},{"x":51,"y":47,"v":10},{"x":52,"y":47,"v":16},{"x":53,"y":47,"v":17},{"x":55,"y":47,"v":18},{"x":56,"y":47,"v":19},{"x":57,"y":47,"v":16},{"x":58,"y":47,"v":17},{"x":59,"y":47,"v":19},{"x":60,"y":47,"v":19},{"x":61,"y":47,"v":19},{"x":62,"y":47,"v":19},
{"x":20,"y":46,"v":19},{"x":21,"y":46,"v":19},{"x":26,"y":46,"v":18},{"x":27,"y":46,"v":18},{"x":28,"y":46,"v":14},{"x":29,"y":46,"v":14},{"x":30,"y":46,"v":19},{"x":31,"y":46,"v":14},{"x":32,"y":46,"v":13},{"x":33,"y":46,"v":18},{"x":34,"y":46,"v":18},{"x":35,"y":46,"v":13},{"x":36,"y":46,"v":16},{"x":37,"y":46,"v":19},{"x":38,"y":46,"v":19},{"x":39,"y":46,"v":18},{"x":40,"y":46,"v":18},{"x":41,"y":46,"v":16},{"x":42,"y":46,"v":13},{"x":43,"y":46,"v":12},{"x":44,"y":46,"v":7},{"x":45,"y":46,"v":1},{"x":46,"y":46,"v":1},{"x":47,"y":46,"v":1},{"x":48,"y":46,"v":8},{"x":49,"y":46,"v":5},{"x":50,"y":46,"v":10},{"x":51,"y":46,"v":10},{"x":52,"y":46,"v":14},{"x":54,"y":46,"v":17},{"x":55,"y":46,"v":19},{"x":56,"y":46,"v":19},{"x":57,"y":46,"v":18},{"x":58,"y":46,"v":18},{"x":59,"y":46,"v":19},{"x":60,"y":46,"v":19},{"x":61,"y":46,"v":19},{"x":62,"y":46,"v":19},{"x":63,"y":46,"v":19},{"x":64,"y":46,"v":19},
{"x":27,"y":45,"v":18},{"x":29,"y":45,"v":16},{"x":30,"y":45,"v":19},{"x":31,"y":45,"v":14},{"x":32,"y":45,"v":13},{"x":33,"y":45,"v":18},{"x":34,"y":45,"v":17},{"x":35,"y":45,"v":13},{"x":36,"y":45,"v":16},{"x":37,"y":45,"v":18},{"x":38,"y":45,"v":17},{"x":39,"y":45,"v":17},{"x":40,"y":45,"v":17},{"x":41,"y":45,"v":14},{"x":42,"y":45,"v":12},{"x":43,"y":45,"v":8},{"x":44,"y":45,"v":1},{"x":45,"y":45,"v":1},{"x":46,"y":45,"v":1},{"x":47,"y":45,"v":10},{"x":48,"y":45,"v":10},{"x":50,"y":45,"v":16},{"x":52,"y":45,"v":17},{"x":53,"y":45,"v":17},{"x":55,"y":45,"v":17},{"x":56,"y":45,"v":19},{"x":57,"y":45,"v":19},{"x":58,"y":45,"v":19},{"x":60,"y":45,"v":18},
{"x":15,"y":44,"v":19},{"x":16,"y":44,"v":19},{"x":19,"y":44,"v":19},{"x":25,"y":44,"v":18},{"x":26,"y":44,"v":18},{"x":27,"y":44,"v":16},{"x":28,"y":44,"v":14},{"x":30,"y":44,"v":18},{"x":31,"y":44,"v":13},{"x":32,"y":44,"v":8},{"x":33,"y":44,"v":14},{"x":34,"y":44,"v":16},{"x":35,"y":44,"v":13},{"x":36,"y":44,"v":12},{"x":37,"y":44,"v":18},{"x":38,"y":44,"v":16},{"x":39,"y":44,"v":13},{"x":40,"y":44,"v":14},{"x":41,"y":44,"v":13},{"x":42,"y":44,"v":8},{"x":43,"y":44,"v":1},{"x":44,"y":44,"v":1},{"x":45,"y":44,"v":1},{"x":46,"y":44,"v":7},{"x":47,"y":44,"v":7},{"x":48,"y":44,"v":10},{"x":49,"y":44,"v":10},{"x":50,"y":44,"v":16},{"x":51,"y":44,"v":16},{"x":53,"y":44,"v":17},{"x":54,"y":44,"v":18},{"x":56,"y":44,"v":19},{"x":57,"y":44,"v":19},{"x":58,"y":44,"v":18},{"x":60,"y":44,"v":19},{"x":62,"y":44,"v":19},{"x":64,"y":44,"v":19},
{"x":15,"y":43,"v":19},{"x":16,"y":43,"v":19},{"x":18,"y":43,"v":19},{"x":26,"y":43,"v":19},{"x":27,"y":43,"v":19},{"x":29,"y":43,"v":14},{"x":30,"y":43,"v":19},{"x":31,"y":43,"v":14},{"x":32,"y":43,"v":12},{"x":33,"y":43,"v":14},{"x":34,"y":43,"v":16},{"x":35,"y":43,"v":12},{"x":36,"y":43,"v":10},{"x":37,"y":43,"v":16},{"x":38,"y":43,"v":14},{"x":39,"y":43,"v":12},{"x":40,"y":43,"v":12},{"x":41,"y":43,"v":8},{"x":42,"y":43,"v":1},{"x":43,"y":43,"v":1},{"x":44,"y":43,"v":1},{"x":45,"y":43,"v":8},{"x":46,"y":43,"v":10},{"x":47,"y":43,"v":12},{"x":48,"y":43,"v":16},{"x":49,"y":43,"v":16},{"x":52,"y":43,"v":19},{"x":53,"y":43,"v":19},{"x":57,"y":43,"v":19},{"x":58,"y":43,"v":19},{"x":61,"y":43,"v":19},
{"x":15,"y":42,"v":19},{"x":16,"y":42,"v":19},{"x":17,"y":42,"v":19},{"x":24,"y":42,"v":19},{"x":25,"y":42,"v":19},{"x":26,"y":42,"v":19},{"x":27,"y":42,"v":19},{"x":28,"y":42,"v":14},{"x":29,"y":42,"v":14},{"x":30,"y":42,"v":14},{"x":31,"y":42,"v":12},{"x":32,"y":42,"v":10},{"x":33,"y":42,"v":12},{"x":34,"y":42,"v":10},{"x":35,"y":42,"v":7},{"x":36,"y":42,"v":5},{"x":37,"y":42,"v":10},{"x":38,"y":42,"v":8},{"x":39,"y":42,"v":4},{"x":40,"y":42,"v":8},{"x":41,"y":42,"v":1},{"x":42,"y":42,"v":1},{"x":43,"y":42,"v":1},{"x":44,"y":42,"v":8},{"x":45,"y":42,"v":10},{"x":46,"y":42,"v":13},{"x":47,"y":42,"v":16},{"x":49,"y":42,"v":18},{"x":50,"y":42,"v":19},{"x":51,"y":42,"v":18},{"x":52,"y":42,"v":18},{"x":54,"y":42,"v":19},{"x":55,"y":42,"v":19},{"x":57,"y":42,"v":19},{"x":58,"y":42,"v":19},{"x":60,"y":42,"v":19},{"x":61,"y":42,"v":19},{"x":62,"y":42,"v":19},{"x":64,"y":42,"v":19},{"x":65,"y":42,"v":19},
{"x":28,"y":41,"v":19},{"x":29,"y":41,"v":19},{"x":30,"y":41,"v":19},{"x":31,"y":41,"v":17},{"x":32,"y":41,"v":17},{"x":33,"y":41,"v":17},{"x":34,"y":41,"v":16},{"x":35,"y":41,"v":12},{"x":36,"y":41,"v":10},{"x":37,"y":41,"v":13},{"x":38,"y":41,"v":12},{"x":39,"y":41,"v":5},{"x":40,"y":41,"v":1},{"x":41,"y":41,"v":1},{"x":42,"y":41,"v":1},{"x":43,"y":41,"v":8},{"x":44,"y":41,"v":13},{"x":45,"y":41,"v":13},{"x":46,"y":41,"v":16},{"x":47,"y":41,"v":17},{"x":48,"y":41,"v":19},{"x":49,"y":41,"v":19},{"x":61,"y":41,"v":19},
{"x":28,"y":40,"v":19},{"x":29,"y":40,"v":19},{"x":30,"y":40,"v":19},{"x":31,"y":40,"v":17},{"x":32,"y":40,"v":13},{"x":33,"y":40,"v":10},{"x":34,"y":40,"v":13},{"x":35,"y":40,"v":8},{"x":36,"y":40,"v":7},{"x":37,"y":40,"v":8},{"x":38,"y":40,"v":8},{"x":39,"y":40,"v":1},{"x":40,"y":40,"v":1},{"x":41,"y":40,"v":1},{"x":42,"y":40,"v":8},{"x":43,"y":40,"v":10},{"x":44,"y":40,"v":13},{"x":45,"y":40,"v":14},{"x":46,"y":40,"v":18},{"x":47,"y":40,"v":18},{"x":48,"y":40,"v":19},
{"x":25,"y":39,"v":19},{"x":27,"y":39,"v":19},{"x":28,"y":39,"v":18},{"x":29,"y":39,"v":17},{"x":30,"y":39,"v":17},{"x":31,"y":39,"v":13},{"x":32,"y":39,"v":10},{"x":33,"y":39,"v":13},{"x":34,"y":39,"v":10},{"x":35,"y":39,"v":7},{"x":36,"y":39,"v":7},{"x":37,"y":39,"v":8},{"x":38,"y":39,"v":1},{"x":39,"y":39,"v":1},{"x":40,"y":39,"v":1},{"x":41,"y":39,"v":5},{"x":42,"y":39,"v":4},{"x":43,"y":39,"v":10},{"x":44,"y":39,"v":13},{"x":45,"y":39,"v":14},{"x":46,"y":39,"v":18},{"x":47,"y":39,"v":18},{"x":48,"y":39,"v":19},{"x":49,"y":39,"v":19},{"x":57,"y":39,"v":19},{"x":58,"y":39,"v":19},
{"x":24,"y":38,"v":19},{"x":25,"y":38,"v":19},{"x":26,"y":38,"v":19},{"x":27,"y":38,"v":18},{"x":28,"y":38,"v":16},{"x":29,"y":38,"v":16},{"x":30,"y":38,"v":13},{"x":31,"y":38,"v":10},{"x":32,"y":38,"v":12},{"x":33,"y":38,"v":10},{"x":34,"y":38,"v":7},{"x":35,"y":38,"v":5},{"x":36,"y":38,"v":8},{"x":37,"y":38,"v":1},{"x":38,"y":38,"v":1},{"x":39,"y":38,"v":1},{"x":40,"y":38,"v":8},{"x":41,"y":38,"v":12},{"x":42,"y":38,"v":8},{"x":43,"y":38,"v":13},{"x":44,"y":38,"v":14},{"x":45,"y":38,"v":14},{"x":46,"y":38,"v":19},{"x":47,"y":38,"v":19},{"x":55,"y":38,"v":19},{"x":56,"y":38,"v":19},{"x":57,"y":38,"v":19},{"x":58,"y":38,"v":19},{"x":59,"y":38,"v":19},{"x":60,"y":38,"v":19},{"x":62,"y":38,"v":19},{"x":63,"y":38,"v":19},{"x":64,"y":38,"v":19},{"x":65,"y":38,"v":19},
{"x":23,"y":37,"v":19},{"x":24,"y":37,"v":19},{"x":25,"y":37,"v":18},{"x":26,"y":37,"v":18},{"x":27,"y":37,"v":17},{"x":28,"y":37,"v":16},{"x":29,"y":37,"v":13},{"x":30,"y":37,"v":10},{"x":31,"y":37,"v":10},{"x":32,"y":37,"v":10},{"x":33,"y":37,"v":7},{"x":34,"y":37,"v":5},{"x":35,"y":37,"v":8},{"x":36,"y":37,"v":1},{"x":37,"y":37,"v":1},{"x":38,"y":37,"v":1},{"x":39,"y":37,"v":8},{"x":40,"y":37,"v":8},{"x":41,"y":37,"v":13},{"x":42,"y":37,"v":12},{"x":43,"y":37,"v":16},{"x":44,"y":37,"v":18},{"x":45,"y":37,"v":18},{"x":46,"y":37,"v":19},{"x":47,"y":37,"v":19},{"x":55,"y":37,"v":19},{"x":56,"y":37,"v":19},{"x":57,"y":37,"v":19},{"x":58,"y":37,"v":19},
{"x":23,"y":36,"v":19},{"x":24,"y":36,"v":19},{"x":25,"y":36,"v":17},{"x":26,"y":36,"v":16},{"x":27,"y":36,"v":16},{"x":28,"y":36,"v":13},{"x":29,"y":36,"v":10},{"x":30,"y":36,"v":10},{"x":31,"y":36,"v":10},{"x":32,"y":36,"v":7},{"x":33,"y":36,"v":5},{"x":34,"y":36,"v":8},{"x":35,"y":36,"v":1},{"x":36,"y":36,"v":1},{"x":37,"y":36,"v":1},{"x":38,"y":36,"v":8},{"x":39,"y":36,"v":7},{"x":40,"y":36,"v":7},{"x":41,"y":36,"v":10},{"x":42,"y":36,"v":5},{"x":43,"y":36,"v":10},{"x":44,"y":36,"v":10},{"x":45,"y":36,"v":13},{"x":46,"y":36,"v":14},{"x":47,"y":36,"v":18},{"x":48,"y":36,"v":18},{"x":49,"y":36,"v":18},{"x":54,"y":36,"v":19},{"x":55,"y":36,"v":19},{"x":57,"y":36,"v":19},{"x":58,"y":36,"v":19},{"x":61,"y":36,"v":19},
{"x":22,"y":35,"v":19},{"x":23,"y":35,"v":19},{"x":24,"y":35,"v":18},{"x":25,"y":35,"v":14},{"x":26,"y":35,"v":16},{"x":27,"y":35,"v":13},{"x":28,"y":35,"v":10},{"x":29,"y":35,"v":10},{"x":30,"y":35,"v":10},{"x":31,"y":35,"v":7},{"x":32,"y":35,"v":5},{"x":33,"y":35,"v":8},{"x":34,"y":35,"v":1},{"x":35,"y":35,"v":1},{"x":36,"y":35,"v":1},{"x":37,"y":35,"v":8},{"x":38,"y":35,"v":5},{"x":39,"y":35,"v":7},{"x":40,"y":35,"v":8},{"x":41,"y":35,"v":12},{"x":42,"y":35,"v":7},{"x":43,"y":35,"v":10},{"x":44,"y":35,"v":13},{"x":45,"y":35,"v":13},{"x":46,"y":35,"v":13},{"x":47,"y":35,"v":16},{"x":48,"y":35,"v":18},{"x":49,"y":35,"v":18},{"x":50,"y":35,"v":19},{"x":51,"y":35,"v":19},{"x":55,"y":35,"v":19},{"x":56,"y":35,"v":19},{"x":60,"y":35,"v":18},{"x":65,"y":35,"v":19},{"x":66,"y":35,"v":19},
{"x":21,"y":34,"v":19},{"x":22,"y":34,"v":19},{"x":23,"y":34,"v":17},{"x":24,"y":34,"v":14},{"x":25,"y":34,"v":13},{"x":26,"y":34,"v":12},{"x":27,"y":34,"v":10},{"x":28,"y":34,"v":10},{"x":29,"y":34,"v":10},{"x":30,"y":34,"v":7},{"x":31,"y":34,"v":5},{"x":32,"y":34,"v":8},{"x":33,"y":34,"v":1},{"x":34,"y":34,"v":1},{"x":35,"y":34,"v":1},{"x":36,"y":34,"v":8},{"x":37,"y":34,"v":5},{"x":38,"y":34,"v":7},{"x":39,"y":34,"v":10},{"x":40,"y":34,"v":13},{"x":41,"y":34,"v":16},{"x":42,"y":34,"v":10},{"x":43,"y":34,"v":16},{"x":44,"y":34,"v":16},{"x":45,"y":34,"v":18},{"x":46,"y":34,"v":18},{"x":47,"y":34,"v":19},{"x":59,"y":34,"v":14},{"x":60,"y":34,"v":18},{"x":63,"y":34,"v":19},
{"x":21,"y":33,"v":19},{"x":22,"y":33,"v":18},{"x":23,"y":33,"v":16},{"x":24,"y":33,"v":16},{"x":25,"y":33,"v":12},{"x":26,"y":33,"v":10},{"x":27,"y":33,"v":10},{"x":28,"y":33,"v":10},{"x":29,"y":33,"v":5},{"x":30,"y":33,"v":5},{"x":31,"y":33,"v":8},{"x":32,"y":33,"v":1},{"x":33,"y":33,"v":1},{"x":34,"y":33,"v":1},{"x":35,"y":33,"v":8},{"x":36,"y":33,"v":5},{"x":37,"y":33,"v":7},{"x":38,"y":33,"v":10},{"x":39,"y":33,"v":12},{"x":40,"y":33,"v":10},{"x":41,"y":33,"v":16},{"x":42,"y":33,"v":12},{"x":43,"y":33,"v":14},{"x":44,"y":33,"v":14},{"x":45,"y":33,"v":17},{"x":46,"y":33,"v":18},{"x":47,"y":33,"v":18},{"x":48,"y":33,"v":19},{"x":49,"y":33,"v":18},{"x":50,"y":33,"v":19},{"x":52,"y":33,"v":19},{"x":54,"y":33,"v":18},{"x":55,"y":33,"v":19},{"x":56,"y":33,"v":19},{"x":57,"y":33,"v":18},{"x":58,"y":33,"v":13},{"x":59,"y":33,"v":18},{"x":60,"y":33,"v":19},{"x":61,"y":33,"v":16},{"x":62,"y":33,"v":16},{"x":63,"y":33,"v":18},{"x":64,"y":33,"v":19},{"x":65,"y":33,"v":19},
{"x":19,"y":32,"v":19},{"x":20,"y":32,"v":19},{"x":21,"y":32,"v":19},{"x":22,"y":32,"v":18},{"x":23,"y":32,"v":16},{"x":24,"y":32,"v":13},{"x":25,"y":32,"v":10},{"x":26,"y":32,"v":10},{"x":27,"y":32,"v":10},{"x":28,"y":32,"v":7},{"x":29,"y":32,"v":5},{"x":30,"y":32,"v":8},{"x":31,"y":32,"v":1},{"x":32,"y":32,"v":1},{"x":33,"y":32,"v":1},{"x":34,"y":32,"v":8},{"x":35,"y":32,"v":5},{"x":36,"y":32,"v":7},{"x":37,"y":32,"v":10},{"x":38,"y":32,"v":12},{"x":39,"y":32,"v":10},{"x":40,"y":32,"v":13},{"x":41,"y":32,"v":16},{"x":42,"y":32,"v":9},{"x":43,"y":32,"v":12},{"x":44,"y":32,"v":8},{"x":45,"y":32,"v":13},{"x":46,"y":32,"v":13},{"x":47,"y":32,"v":13},{"x":48,"y":32,"v":14},{"x":49,"y":32,"v":14},{"x":50,"y":32,"v":14},{"x":51,"y":32,"v":17},{"x":57,"y":32,"v":14},{"x":60,"y":32,"v":19},{"x":61,"y":32,"v":13},{"x":65,"y":32,"v":19},
{"x":16,"y":31,"v":19},{"x":19,"y":31,"v":19},{"x":20,"y":31,"v":19},{"x":21,"y":31,"v":18},{"x":22,"y":31,"v":18},{"x":23,"y":31,"v":16},{"x":24,"y":31,"v":16},{"x":25,"y":31,"v":12},{"x":26,"y":31,"v":10},{"x":27,"y":31,"v":7},{"x":28,"y":31,"v":5},{"x":29,"y":31,"v":5},{"x":30,"y":31,"v":1},{"x":31,"y":31,"v":1},{"x":32,"y":31,"v":1},{"x":33,"y":31,"v":8},{"x":34,"y":31,"v":5},{"x":35,"y":31,"v":7},{"x":36,"y":31,"v":10},{"x":37,"y":31,"v":10},{"x":38,"y":31,"v":10},{"x":39,"y":31,"v":13},{"x":40,"y":31,"v":16},{"x":41,"y":31,"v":16},{"x":42,"y":31,"v":12},{"x":43,"y":31,"v":14},{"x":44,"y":31,"v":13},{"x":45,"y":31,"v":14},{"x":46,"y":31,"v":14},{"x":47,"y":31,"v":17},{"x":48,"y":31,"v":18},{"x":49,"y":31,"v":18},{"x":51,"y":31,"v":18},{"x":56,"y":31,"v":14},{"x":57,"y":31,"v":14},
{"x":16,"y":30,"v":18},{"x":17,"y":30,"v":19},{"x":18,"y":30,"v":19},{"x":19,"y":30,"v":18},{"x":20,"y":30,"v":16},{"x":21,"y":30,"v":16},{"x":22,"y":30,"v":13},{"x":23,"y":30,"v":12},{"x":24,"y":30,"v":12},{"x":25,"y":30,"v":10},{"x":26,"y":30,"v":5},{"x":27,"y":30,"v":5},{"x":28,"y":30,"v":8},{"x":29,"y":30,"v":1},{"x":30,"y":30,"v":1},{"x":31,"y":30,"v":1},{"x":32,"y":30,"v":8},{"x":33,"y":30,"v":5},{"x":34,"y":30,"v":7},{"x":35,"y":30,"v":10},{"x":36,"y":30,"v":10},{"x":37,"y":30,"v":10},{"x":38,"y":30,"v":13},{"x":39,"y":30,"v":16},{"x":40,"y":30,"v":18},{"x":41,"y":30,"v":19},{"x":42,"y":30,"v":14},{"x":43,"y":30,"v":18},{"x":44,"y":30,"v":17},{"x":45,"y":30,"v":19},{"x":46,"y":30,"v":19},{"x":47,"y":30,"v":19},{"x":57,"y":30,"v":14},{"x":64,"y":30,"v":14},{"x":66,"y":30,"v":19},
{"x":15,"y":29,"v":19},{"x":16,"y":29,"v":17},{"x":17,"y":29,"v":19},{"x":18,"y":29,"v":18},{"x":19,"y":29,"v":16},{"x":22,"y":29,"v":14},{"x":23,"y":29,"v":13},{"x":24,"y":29,"v":12},{"x":25,"y":29,"v":10},{"x":26,"y":29,"v":5},{"x":27,"y":29,"v":7},{"x":28,"y":29,"v":1},{"x":29,"y":29,"v":1},{"x":30,"y":29,"v":1},{"x":31,"y":29,"v":5},{"x":32,"y":29,"v":5},{"x":33,"y":29,"v":5},{"x":34,"y":29,"v":10},{"x":35,"y":29,"v":10},{"x":36,"y":29,"v":10},{"x":37,"y":29,"v":13},{"x":38,"y":29,"v":16},{"x":39,"y":29,"v":16},{"x":40,"y":29,"v":19},{"x":41,"y":29,"v":19},{"x":42,"y":29,"v":14},{"x":43,"y":29,"v":14},{"x":45,"y":29,"v":16},{"x":46,"y":29,"v":14},{"x":47,"y":29,"v":14},{"x":48,"y":29,"v":18},{"x":49,"y":29,"v":14},{"x":50,"y":29,"v":14},{"x":51,"y":29,"v":16},{"x":53,"y":29,"v":14},{"x":54,"y":29,"v":13},{"x":55,"y":29,"v":13},{"x":56,"y":29,"v":14},{"x":57,"y":29,"v":13},{"x":58,"y":29,"v":8},{"x":59,"y":29,"v":13},{"x":61,"y":29,"v":13},{"x":62,"y":29,"v":17},{"x":63,"y":29,"v":18},{"x":64,"y":29,"v":18},{"x":65,"y":29,"v":18},{"x":66,"y":29,"v":19},
{"x":15,"y":28,"v":19},{"x":16,"y":28,"v":19},{"x":17,"y":28,"v":18},{"x":18,"y":28,"v":19},{"x":19,"y":28,"v":16},{"x":20,"y":28,"v":18},{"x":21,"y":28,"v":14},{"x":22,"y":28,"v":19},{"x":23,"y":28,"v":16},{"x":24,"y":28,"v":13},{"x":25,"y":28,"v":10},{"x":26,"y":28,"v":5},{"x":27,"y":28,"v":1},{"x":28,"y":28,"v":1},{"x":29,"y":28,"v":1},{"x":30,"y":28,"v":8},{"x":31,"y":28,"v":5},{"x":32,"y":28,"v":7},{"x":33,"y":28,"v":10},{"x":34,"y":28,"v":10},{"x":35,"y":28,"v":10},{"x":36,"y":28,"v":13},{"x":37,"y":28,"v":16},{"x":38,"y":28,"v":16},{"x":39,"y":28,"v":17},{"x":40,"y":28,"v":19},{"x":41,"y":28,"v":19},{"x":42,"y":28,"v":14},{"x":44,"y":28,"v":14},{"x":46,"y":28,"v":14},{"x":48,"y":28,"v":14},{"x":49,"y":28,"v":14},{"x":50,"y":28,"v":14},{"x":51,"y":28,"v":14},{"x":53,"y":28,"v":14},{"x":55,"y":28,"v":14},{"x":56,"y":28,"v":14},{"x":57,"y":28,"v":14},{"x":58,"y":28,"v":7},{"x":63,"y":28,"v":16},{"x":64,"y":28,"v":18},{"x":65,"y":28,"v":14},{"x":66,"y":28,"v":18},{"x":67,"y":28,"v":19},
{"x":13,"y":27,"v":18},{"x":14,"y":27,"v":19},{"x":16,"y":27,"v":16},{"x":17,"y":27,"v":17},{"x":18,"y":27,"v":17},{"x":19,"y":27,"v":13},{"x":20,"y":27,"v":16},{"x":21,"y":27,"v":16},{"x":22,"y":27,"v":16},{"x":23,"y":27,"v":13},{"x":24,"y":27,"v":13},{"x":25,"y":27,"v":8},{"x":26,"y":27,"v":1},{"x":27,"y":27,"v":1},{"x":28,"y":27,"v":1},{"x":29,"y":27,"v":7},{"x":30,"y":27,"v":5},{"x":31,"y":27,"v":7},{"x":32,"y":27,"v":10},{"x":33,"y":27,"v":10},{"x":34,"y":27,"v":10},{"x":35,"y":27,"v":13},{"x":36,"y":27,"v":16},{"x":37,"y":27,"v":16},{"x":38,"y":27,"v":18},{"x":39,"y":27,"v":19},{"x":42,"y":27,"v":17},{"x":43,"y":27,"v":17},{"x":44,"y":27,"v":14},{"x":45,"y":27,"v":17},{"x":46,"y":27,"v":17},{"x":55,"y":27,"v":14},{"x":57,"y":27,"v":16},{"x":58,"y":27,"v":5},{"x":60,"y":27,"v":14},{"x":64,"y":27,"v":17},{"x":67,"y":27,"v":18},
{"x":11,"y":26,"v":19},{"x":12,"y":26,"v":18},{"x":13,"y":26,"v":18},{"x":14,"y":26,"v":18},{"x":19,"y":26,"v":16},{"x":20,"y":26,"v":16},{"x":21,"y":26,"v":16},{"x":22,"y":26,"v":14},{"x":23,"y":26,"v":10},{"x":24,"y":26,"v":7},{"x":25,"y":26,"v":1},{"x":26,"y":26,"v":1},{"x":27,"y":26,"v":1},{"x":28,"y":26,"v":5},{"x":29,"y":26,"v":5},{"x":30,"y":26,"v":5},{"x":31,"y":26,"v":10},{"x":32,"y":26,"v":10},{"x":33,"y":26,"v":10},{"x":34,"y":26,"v":13},{"x":35,"y":26,"v":16},{"x":36,"y":26,"v":16},{"x":37,"y":26,"v":17},{"x":38,"y":26,"v":19},{"x":42,"y":26,"v":19},{"x":43,"y":26,"v":19},{"x":44,"y":26,"v":17},{"x":46,"y":26,"v":17},{"x":52,"y":26,"v":17},{"x":53,"y":26,"v":14},{"x":54,"y":26,"v":14},{"x":55,"y":26,"v":14},{"x":56,"y":26,"v":14},{"x":57,"y":26,"v":13},{"x":58,"y":26,"v":8},{"x":59,"y":26,"v":13},{"x":60,"y":26,"v":14},{"x":62,"y":26,"v":16},{"x":64,"y":26,"v":14},{"x":67,"y":26,"v":18},
{"x":10,"y":25,"v":19},{"x":11,"y":25,"v":19},{"x":12,"y":25,"v":17},{"x":13,"y":25,"v":16},{"x":14,"y":25,"v":16},{"x":15,"y":25,"v":16},{"x":16,"y":25,"v":16},{"x":17,"y":25,"v":16},{"x":18,"y":25,"v":14},{"x":19,"y":25,"v":13},{"x":20,"y":25,"v":16},{"x":21,"y":25,"v":13},{"x":22,"y":25,"v":12},{"x":23,"y":25,"v":7},{"x":24,"y":25,"v":1},{"x":25,"y":25,"v":1},{"x":26,"y":25,"v":1},{"x":27,"y":25,"v":8},{"x":28,"y":25,"v":10},{"x":29,"y":25,"v":10},{"x":30,"y":25,"v":10},{"x":31,"y":25,"v":10},{"x":32,"y":25,"v":10},{"x":33,"y":25,"v":10},{"x":34,"y":25,"v":16},{"x":35,"y":25,"v":16},{"x":36,"y":25,"v":17},{"x":37,"y":25,"v":18},{"x":38,"y":25,"v":19},{"x":39,"y":25,"v":19},{"x":42,"y":25,"v":18},{"x":44,"y":25,"v":17},{"x":50,"y":25,"v":14},{"x":53,"y":25,"v":14},{"x":54,"y":25,"v":14},{"x":55,"y":25,"v":13},{"x":56,"y":25,"v":16},{"x":60,"y":25,"v":13},{"x":61,"y":25,"v":13},{"x":63,"y":25,"v":16},{"x":64,"y":25,"v":17},{"x":65,"y":25,"v":17},{"x":66,"y":25,"v":18},
{"x":7,"y":24,"v":18},{"x":9,"y":24,"v":19},{"x":10,"y":24,"v":18},{"x":11,"y":24,"v":17},{"x":15,"y":24,"v":16},{"x":16,"y":24,"v":12},{"x":17,"y":24,"v":12},{"x":18,"y":24,"v":13},{"x":19,"y":24,"v":12},{"x":20,"y":24,"v":13},{"x":21,"y":24,"v":12},{"x":22,"y":24,"v":8},{"x":23,"y":24,"v":1},{"x":24,"y":24,"v":1},{"x":25,"y":24,"v":1},{"x":26,"y":24,"v":7},{"x":27,"y":24,"v":13},{"x":28,"y":24,"v":13},{"x":29,"y":24,"v":12},{"x":30,"y":24,"v":12},{"x":31,"y":24,"v":16},{"x":32,"y":24,"v":14},{"x":33,"y":24,"v":17},{"x":34,"y":24,"v":16},{"x":35,"y":24,"v":18},{"x":36,"y":24,"v":19},{"x":37,"y":24,"v":19},{"x":38,"y":24,"v":19},{"x":42,"y":24,"v":18},{"x":49,"y":24,"v":18},{"x":50,"y":24,"v":14},{"x":53,"y":24,"v":14},{"x":54,"y":24,"v":14},{"x":55,"y":24,"v":14},{"x":56,"y":24,"v":8},{"x":60,"y":24,"v":14},{"x":65,"y":24,"v":13},
{"x":9,"y":23,"v":19},{"x":10,"y":23,"v":19},{"x":11,"y":23,"v":19},{"x":12,"y":23,"v":18},{"x":13,"y":23,"v":17},{"x":14,"y":23,"v":17},{"x":15,"y":23,"v":14},{"x":16,"y":23,"v":12},{"x":17,"y":23,"v":13},{"x":18,"y":23,"v":12},{"x":19,"y":23,"v":12},{"x":20,"y":23,"v":12},{"x":21,"y":23,"v":8},{"x":22,"y":23,"v":1},{"x":23,"y":23,"v":1},{"x":24,"y":23,"v":1},{"x":25,"y":23,"v":7},{"x":26,"y":23,"v":10},{"x":27,"y":23,"v":14},{"x":28,"y":23,"v":16},{"x":29,"y":23,"v":13},{"x":30,"y":23,"v":12},{"x":31,"y":23,"v":16},{"x":32,"y":23,"v":16},{"x":33,"y":23,"v":16},{"x":34,"y":23,"v":17},{"x":35,"y":23,"v":19},{"x":36,"y":23,"v":19},{"x":37,"y":23,"v":19},{"x":48,"y":23,"v":18},{"x":53,"y":23,"v":14},{"x":55,"y":23,"v":16},{"x":56,"y":23,"v":16},{"x":58,"y":23,"v":16},{"x":59,"y":23,"v":13},{"x":60,"y":23,"v":13},{"x":61,"y":23,"v":14},{"x":62,"y":23,"v":14},{"x":63,"y":23,"v":19},{"x":64,"y":23,"v":17},{"x":65,"y":23,"v":18},{"x":66,"y":23,"v":18},{"x":67,"y":23,"v":18},
{"x":9,"y":22,"v":19},{"x":10,"y":22,"v":19},{"x":11,"y":22,"v":18},{"x":12,"y":22,"v":16},{"x":13,"y":22,"v":16},{"x":14,"y":22,"v":18},{"x":15,"y":22,"v":12},{"x":16,"y":22,"v":10},{"x":17,"y":22,"v":10},{"x":18,"y":22,"v":12},{"x":19,"y":22,"v":5},{"x":20,"y":22,"v":8},{"x":21,"y":22,"v":1},{"x":22,"y":22,"v":1},{"x":23,"y":22,"v":1},{"x":24,"y":22,"v":8},{"x":25,"y":22,"v":13},{"x":26,"y":22,"v":14},{"x":27,"y":22,"v":16},{"x":28,"y":22,"v":19},{"x":29,"y":22,"v":17},{"x":30,"y":22,"v":14},{"x":31,"y":22,"v":18},{"x":32,"y":22,"v":18},{"x":33,"y":22,"v":17},{"x":34,"y":22,"v":19},{"x":35,"y":22,"v":19},{"x":47,"y":22,"v":19},{"x":49,"y":22,"v":14},{"x":50,"y":22,"v":14},{"x":51,"y":22,"v":13},{"x":52,"y":22,"v":16},{"x":53,"y":22,"v":13},{"x":54,"y":22,"v":14},{"x":56,"y":22,"v":14},{"x":57,"y":22,"v":14},{"x":58,"y":22,"v":14},{"x":59,"y":22,"v":14},{"x":60,"y":22,"v":14},{"x":61,"y":22,"v":14},{"x":62,"y":22,"v":16},{"x":63,"y":22,"v":18},{"x":64,"y":22,"v":18},{"x":65,"y":22,"v":19},{"x":66,"y":22,"v":19},{"x":67,"y":22,"v":19},
{"x":9,"y":21,"v":19},{"x":10,"y":21,"v":19},{"x":11,"y":21,"v":19},{"x":12,"y":21,"v":18},{"x":13,"y":21,"v":17},{"x":14,"y":21,"v":16},{"x":15,"y":21,"v":13},{"x":16,"y":21,"v":12},{"x":17,"y":21,"v":13},{"x":18,"y":21,"v":12},{"x":19,"y":21,"v":7},{"x":20,"y":21,"v":1},{"x":21,"y":21,"v":1},{"x":22,"y":21,"v":1},{"x":23,"y":21,"v":8},{"x":24,"y":21,"v":12},{"x":25,"y":21,"v":13},{"x":26,"y":21,"v":16},{"x":27,"y":21,"v":16},{"x":28,"y":21,"v":16},{"x":30,"y":21,"v":16},{"x":31,"y":21,"v":18},{"x":32,"y":21,"v":19},{"x":33,"y":21,"v":19},{"x":34,"y":21,"v":19},{"x":46,"y":21,"v":19},{"x":50,"y":21,"v":13},{"x":51,"y":21,"v":16},{"x":52,"y":21,"v":13},{"x":53,"y":21,"v":14},{"x":54,"y":21,"v":14},{"x":55,"y":21,"v":13},{"x":56,"y":21,"v":13},{"x":58,"y":21,"v":16},{"x":59,"y":21,"v":17},{"x":60,"y":21,"v":16},{"x":61,"y":21,"v":18},{"x":62,"y":21,"v":19},{"x":63,"y":21,"v":18},{"x":64,"y":21,"v":19},{"x":65,"y":21,"v":19},{"x":66,"y":21,"v":19},{"x":67,"y":21,"v":19},
{"x":8,"y":20,"v":19},{"x":9,"y":20,"v":19},{"x":10,"y":20,"v":19},{"x":11,"y":20,"v":19},{"x":12,"y":20,"v":17},{"x":13,"y":20,"v":12},{"x":14,"y":20,"v":13},{"x":15,"y":20,"v":12},{"x":16,"y":20,"v":7},{"x":17,"y":20,"v":8},{"x":18,"y":20,"v":8},{"x":19,"y":20,"v":1},{"x":20,"y":20,"v":1},{"x":21,"y":20,"v":1},{"x":22,"y":20,"v":8},{"x":23,"y":20,"v":12},{"x":24,"y":20,"v":13},{"x":25,"y":20,"v":16},{"x":26,"y":20,"v":16},{"x":27,"y":20,"v":17},{"x":28,"y":20,"v":18},{"x":30,"y":20,"v":16},{"x":31,"y":20,"v":19},{"x":32,"y":20,"v":19},{"x":46,"y":20,"v":19},{"x":50,"y":20,"v":14},{"x":53,"y":20,"v":14},{"x":54,"y":20,"v":14},{"x":55,"y":20,"v":14},{"x":56,"y":20,"v":14},{"x":57,"y":20,"v":13},{"x":58,"y":20,"v":18},{"x":59,"y":20,"v":19},{"x":60,"y":20,"v":19},{"x":61,"y":20,"v":19},{"x":62,"y":20,"v":19},{"x":63,"y":20,"v":19},{"x":64,"y":20,"v":19},{"x":65,"y":20,"v":19},{"x":66,"y":20,"v":19},
{"x":7,"y":19,"v":19},{"x":8,"y":19,"v":18},{"x":9,"y":19,"v":16},{"x":10,"y":19,"v":14},{"x":11,"y":19,"v":16},{"x":12,"y":19,"v":10},{"x":13,"y":19,"v":10},{"x":14,"y":19,"v":12},{"x":15,"y":19,"v":7},{"x":16,"y":19,"v":5},{"x":17,"y":19,"v":8},{"x":18,"y":19,"v":1},{"x":19,"y":19,"v":1},{"x":20,"y":19,"v":1},{"x":21,"y":19,"v":7},{"x":22,"y":19,"v":5},{"x":23,"y":19,"v":10},{"x":24,"y":19,"v":10},{"x":25,"y":19,"v":12},{"x":26,"y":19,"v":17},{"x":27,"y":19,"v":13},{"x":28,"y":19,"v":16},{"x":29,"y":19,"v":16},{"x":30,"y":19,"v":17},{"x":31,"y":19,"v":18},{"x":32,"y":19,"v":18},{"x":44,"y":19,"v":18},{"x":47,"y":19,"v":18},{"x":51,"y":19,"v":13},{"x":52,"y":19,"v":13},{"x":53,"y":19,"v":13},{"x":54,"y":19,"v":13},{"x":55,"y":19,"v":14},{"x":56,"y":19,"v":13},{"x":57,"y":19,"v":13},{"x":58,"y":19,"v":16},{"x":59,"y":19,"v":19},{"x":60,"y":19,"v":13},{"x":61,"y":19,"v":14},{"x":62,"y":19,"v":19},{"x":65,"y":19,"v":19},{"x":66,"y":19,"v":19},{"x":67,"y":19,"v":19},
{"x":6,"y":18,"v":19},{"x":7,"y":18,"v":17},{"x":8,"y":18,"v":16},{"x":9,"y":18,"v":16},{"x":10,"y":18,"v":13},{"x":11,"y":18,"v":10},{"x":12,"y":18,"v":13},{"x":13,"y":18,"v":12},{"x":14,"y":18,"v":7},{"x":15,"y":18,"v":7},{"x":16,"y":18,"v":8},{"x":17,"y":18,"v":1},{"x":18,"y":18,"v":1},{"x":19,"y":18,"v":1},{"x":20,"y":18,"v":8},{"x":21,"y":18,"v":10},{"x":22,"y":18,"v":10},{"x":23,"y":18,"v":10},{"x":24,"y":18,"v":13},{"x":25,"y":18,"v":16},{"x":27,"y":18,"v":17},{"x":28,"y":18,"v":19},{"x":29,"y":18,"v":18},{"x":30,"y":18,"v":19},{"x":43,"y":18,"v":19},{"x":47,"y":18,"v":19},{"x":48,"y":18,"v":17},{"x":49,"y":18,"v":18},{"x":51,"y":18,"v":18},{"x":52,"y":18,"v":14},{"x":53,"y":18,"v":14},{"x":54,"y":18,"v":14},{"x":55,"y":18,"v":19},{"x":56,"y":18,"v":14},{"x":57,"y":18,"v":13},{"x":58,"y":18,"v":19},{"x":59,"y":18,"v":19},{"x":60,"y":18,"v":16},{"x":61,"y":18,"v":16},{"x":62,"y":18,"v":19},{"x":63,"y":18,"v":19},{"x":67,"y":18,"v":19},
{"x":5,"y":17,"v":19},{"x":6,"y":17,"v":16},{"x":7,"y":17,"v":17},{"x":8,"y":17,"v":16},{"x":9,"y":17,"v":14},{"x":10,"y":17,"v":12},{"x":11,"y":17,"v":13},{"x":12,"y":17,"v":12},{"x":13,"y":17,"v":7},{"x":14,"y":17,"v":5},{"x":15,"y":17,"v":8},{"x":16,"y":17,"v":1},{"x":17,"y":17,"v":1},{"x":18,"y":17,"v":1},{"x":19,"y":17,"v":8},{"x":20,"y":17,"v":8},{"x":21,"y":17,"v":13},{"x":22,"y":17,"v":12},{"x":23,"y":17,"v":13},{"x":24,"y":17,"v":12},{"x":25,"y":17,"v":16},{"x":27,"y":17,"v":17},{"x":28,"y":17,"v":18},{"x":29,"y":17,"v":19},{"x":30,"y":17,"v":19},{"x":42,"y":17,"v":18},{"x":47,"y":17,"v":18},{"x":49,"y":17,"v":14},{"x":51,"y":17,"v":13},{"x":52,"y":17,"v":14},{"x":53,"y":17,"v":13},{"x":54,"y":17,"v":14},{"x":55,"y":17,"v":19},{"x":56,"y":17,"v":14},{"x":57,"y":17,"v":13},{"x":58,"y":17,"v":14},{"x":59,"y":17,"v":19},{"x":60,"y":17,"v":17},{"x":61,"y":17,"v":13},{"x":62,"y":17,"v":19},{"x":64,"y":17,"v":14},{"x":67,"y":17,"v":19},
{"x":4,"y":16,"v":19},{"x":5,"y":16,"v":18},{"x":6,"y":16,"v":17},{"x":7,"y":16,"v":17},{"x":8,"y":16,"v":14},{"x":9,"y":16,"v":12},{"x":10,"y":16,"v":10},{"x":11,"y":16,"v":10},{"x":12,"y":16,"v":7},{"x":13,"y":16,"v":5},{"x":14,"y":16,"v":8},{"x":15,"y":16,"v":1},{"x":16,"y":16,"v":1},{"x":17,"y":16,"v":1},{"x":18,"y":16,"v":8},{"x":19,"y":16,"v":5},{"x":20,"y":16,"v":7},{"x":21,"y":16,"v":10},{"x":22,"y":16,"v":10},{"x":23,"y":16,"v":10},{"x":24,"y":16,"v":10},{"x":25,"y":16,"v":16},{"x":27,"y":16,"v":16},{"x":28,"y":16,"v":19},{"x":29,"y":16,"v":18},{"x":30,"y":16,"v":18},{"x":31,"y":16,"v":19},{"x":42,"y":16,"v":18},{"x":43,"y":16,"v":18},{"x":44,"y":16,"v":18},{"x":51,"y":16,"v":13},{"x":55,"y":16,"v":13},{"x":58,"y":16,"v":17},{"x":59,"y":16,"v":14},{"x":62,"y":16,"v":13},{"x":63,"y":16,"v":13},{"x":65,"y":16,"v":14},
{"x":3,"y":15,"v":19},{"x":4,"y":15,"v":18},{"x":5,"y":15,"v":17},{"x":6,"y":15,"v":17},{"x":7,"y":15,"v":14},{"x":8,"y":15,"v":13},{"x":9,"y":15,"v":13},{"x":10,"y":15,"v":12},{"x":11,"y":15,"v":7},{"x":12,"y":15,"v":7},{"x":13,"y":15,"v":8},{"x":14,"y":15,"v":1},{"x":15,"y":15,"v":1},{"x":16,"y":15,"v":1},{"x":17,"y":15,"v":8},{"x":18,"y":15,"v":7},{"x":19,"y":15,"v":7},{"x":20,"y":15,"v":10},{"x":21,"y":15,"v":13},{"x":22,"y":15,"v":10},{"x":23,"y":15,"v":14},{"x":24,"y":15,"v":16},{"x":25,"y":15,"v":16},{"x":28,"y":15,"v":19},{"x":29,"y":15,"v":19},{"x":42,"y":15,"v":18},{"x":43,"y":15,"v":18},{"x":44,"y":15,"v":18},{"x":47,"y":15,"v":14},{"x":50,"y":15,"v":14},{"x":51,"y":15,"v":18},{"x":53,"y":15,"v":18},{"x":54,"y":15,"v":14},{"x":55,"y":15,"v":19},{"x":56,"y":15,"v":13},{"x":57,"y":15,"v":13},{"x":58,"y":15,"v":14},{"x":59,"y":15,"v":14},{"x":61,"y":15,"v":13},{"x":63,"y":15,"v":14},{"x":64,"y":15,"v":13},{"x":65,"y":15,"v":19},{"x":67,"y":15,"v":19},
{"x":2,"y":14,"v":19},{"x":3,"y":14,"v":18},{"x":4,"y":14,"v":17},{"x":5,"y":14,"v":17},{"x":6,"y":14,"v":14},{"x":7,"y":14,"v":12},{"x":8,"y":14,"v":12},{"x":9,"y":14,"v":10},{"x":10,"y":14,"v":7},{"x":11,"y":14,"v":5},{"x":12,"y":14,"v":8},{"x":13,"y":14,"v":1},{"x":14,"y":14,"v":1},{"x":15,"y":14,"v":1},{"x":16,"y":14,"v":8},{"x":17,"y":14,"v":5},{"x":18,"y":14,"v":7},{"x":19,"y":14,"v":10},{"x":20,"y":14,"v":12},{"x":21,"y":14,"v":16},{"x":22,"y":14,"v":18},{"x":23,"y":14,"v":16},{"x":25,"y":14,"v":16},{"x":26,"y":14,"v":17},{"x":27,"y":14,"v":19},{"x":47,"y":14,"v":19},{"x":48,"y":14,"v":18},{"x":49,"y":14,"v":18},{"x":50,"y":14,"v":18},{"x":51,"y":14,"v":18},{"x":52,"y":14,"v":19},{"x":53,"y":14,"v":19},{"x":54,"y":14,"v":19},{"x":55,"y":14,"v":19},{"x":56,"y":14,"v":19},{"x":57,"y":14,"v":13},{"x":58,"y":14,"v":19},{"x":59,"y":14,"v":19},{"x":61,"y":14,"v":13},{"x":63,"y":14,"v":19},{"x":64,"y":14,"v":13},{"x":65,"y":14,"v":19},{"x":66,"y":14,"v":19},{"x":67,"y":14,"v":19},
{"x":1,"y":13,"v":19},{"x":2,"y":13,"v":18},{"x":3,"y":13,"v":17},{"x":4,"y":13,"v":17},{"x":5,"y":13,"v":14},{"x":6,"y":13,"v":10},{"x":7,"y":13,"v":13},{"x":8,"y":13,"v":10},{"x":9,"y":13,"v":7},{"x":10,"y":13,"v":5},{"x":11,"y":13,"v":8},{"x":12,"y":13,"v":1},{"x":13,"y":13,"v":1},{"x":14,"y":13,"v":1},{"x":15,"y":13,"v":8},{"x":16,"y":13,"v":5},{"x":17,"y":13,"v":7},{"x":18,"y":13,"v":10},{"x":19,"y":13,"v":10},{"x":20,"y":13,"v":10},{"x":21,"y":13,"v":16},{"x":22,"y":13,"v":16},{"x":23,"y":13,"v":16},{"x":25,"y":13,"v":16},{"x":26,"y":13,"v":18},{"x":27,"y":13,"v":18},{"x":47,"y":13,"v":19},{"x":48,"y":13,"v":19},{"x":49,"y":13,"v":18},{"x":50,"y":13,"v":18},{"x":51,"y":13,"v":18},{"x":52,"y":13,"v":19},{"x":54,"y":13,"v":19},{"x":55,"y":13,"v":18},{"x":56,"y":13,"v":13},{"x":58,"y":13,"v":13},{"x":59,"y":13,"v":13},{"x":62,"y":13,"v":13},{"x":65,"y":13,"v":13},{"x":66,"y":13,"v":13},{"x":67,"y":13,"v":14},
{"x":1,"y":12,"v":18},{"x":2,"y":12,"v":17},{"x":3,"y":12,"v":17},{"x":4,"y":12,"v":14},{"x":5,"y":12,"v":10},{"x":6,"y":12,"v":10},{"x":7,"y":12,"v":10},{"x":8,"y":12,"v":7},{"x":9,"y":12,"v":5},{"x":10,"y":12,"v":8},{"x":11,"y":12,"v":1},{"x":12,"y":12,"v":1},{"x":13,"y":12,"v":1},{"x":14,"y":12,"v":8},{"x":15,"y":12,"v":7},{"x":16,"y":12,"v":7},{"x":17,"y":12,"v":10},{"x":18,"y":12,"v":13},{"x":19,"y":12,"v":10},{"x":20,"y":12,"v":17},{"x":21,"y":12,"v":18},{"x":22,"y":12,"v":16},{"x":23,"y":12,"v":18},{"x":25,"y":12,"v":18},{"x":26,"y":12,"v":18},{"x":47,"y":12,"v":19},{"x":50,"y":12,"v":18},{"x":51,"y":12,"v":19},{"x":52,"y":12,"v":19},{"x":54,"y":12,"v":19},{"x":55,"y":12,"v":19},{"x":56,"y":12,"v":13},{"x":58,"y":12,"v":16},{"x":59,"y":12,"v":13},{"x":62,"y":12,"v":13},{"x":65,"y":12,"v":13},{"x":66,"y":12,"v":14},{"x":67,"y":12,"v":14},
{"x":1,"y":11,"v":17},{"x":2,"y":11,"v":17},{"x":3,"y":11,"v":14},{"x":4,"y":11,"v":10},{"x":5,"y":11,"v":10},{"x":6,"y":11,"v":10},{"x":7,"y":11,"v":7},{"x":8,"y":11,"v":5},{"x":9,"y":11,"v":8},{"x":10,"y":11,"v":1},{"x":11,"y":11,"v":1},{"x":12,"y":11,"v":1},{"x":13,"y":11,"v":8},{"x":14,"y":11,"v":5},{"x":15,"y":11,"v":7},{"x":16,"y":11,"v":10},{"x":17,"y":11,"v":12},{"x":18,"y":11,"v":10},{"x":19,"y":11,"v":16},{"x":20,"y":11,"v":19},{"x":21,"y":11,"v":19},{"x":22,"y":11,"v":17},{"x":23,"y":11,"v":19},{"x":24,"y":11,"v":17},{"x":25,"y":11,"v":19},{"x":26,"y":11,"v":19},{"x":49,"y":11,"v":19},{"x":50,"y":11,"v":19},{"x":51,"y":11,"v":19},{"x":52,"y":11,"v":19},{"x":55,"y":11,"v":19},{"x":56,"y":11,"v":19},{"x":57,"y":11,"v":13},{"x":58,"y":11,"v":19},{"x":59,"y":11,"v":19},{"x":60,"y":11,"v":13},{"x":61,"y":11,"v":14},{"x":63,"y":11,"v":13},{"x":65,"y":11,"v":19},{"x":66,"y":11,"v":19},{"x":67,"y":11,"v":19},
{"x":1,"y":10,"v":16},{"x":2,"y":10,"v":14},{"x":3,"y":10,"v":10},{"x":4,"y":10,"v":10},{"x":5,"y":10,"v":10},{"x":6,"y":10,"v":7},{"x":7,"y":10,"v":5},{"x":8,"y":10,"v":8},{"x":9,"y":10,"v":1},{"x":10,"y":10,"v":1},{"x":11,"y":10,"v":1},{"x":12,"y":10,"v":8},{"x":13,"y":10,"v":5},{"x":14,"y":10,"v":7},{"x":15,"y":10,"v":10},{"x":16,"y":10,"v":10},{"x":17,"y":10,"v":10},{"x":18,"y":10,"v":13},{"x":19,"y":10,"v":14},{"x":20,"y":10,"v":19},{"x":21,"y":10,"v":19},{"x":22,"y":10,"v":19},{"x":23,"y":10,"v":19},{"x":24,"y":10,"v":18},{"x":25,"y":10,"v":19},{"x":49,"y":10,"v":19},{"x":50,"y":10,"v":19},{"x":51,"y":10,"v":19},{"x":52,"y":10,"v":19},{"x":55,"y":10,"v":19},{"x":56,"y":10,"v":19},{"x":59,"y":10,"v":19},{"x":60,"y":10,"v":13},{"x":61,"y":10,"v":13},{"x":63,"y":10,"v":13},
{"x":1,"y":9,"v":14},{"x":2,"y":9,"v":10},{"x":3,"y":9,"v":10},{"x":4,"y":9,"v":10},{"x":5,"y":9,"v":7},{"x":6,"y":9,"v":5},{"x":7,"y":9,"v":8},{"x":8,"y":9,"v":1},{"x":9,"y":9,"v":1},{"x":10,"y":9,"v":1},{"x":11,"y":9,"v":8},{"x":12,"y":9,"v":5},{"x":13,"y":9,"v":7},{"x":14,"y":9,"v":10},{"x":15,"y":9,"v":12},{"x":16,"y":9,"v":10},{"x":17,"y":9,"v":13},{"x":18,"y":9,"v":16},{"x":19,"y":9,"v":16},{"x":20,"y":9,"v":19},{"x":21,"y":9,"v":19},{"x":22,"y":9,"v":19},{"x":23,"y":9,"v":19},{"x":24,"y":9,"v":19},{"x":49,"y":9,"v":19},{"x":50,"y":9,"v":19},{"x":51,"y":9,"v":19},{"x":52,"y":9,"v":19},{"x":53,"y":9,"v":19},{"x":54,"y":9,"v":19},{"x":55,"y":9,"v":19},{"x":56,"y":9,"v":19},{"x":58,"y":9,"v":19},{"x":59,"y":9,"v":14},{"x":62,"y":9,"v":13},{"x":66,"y":9,"v":13},
{"x":1,"y":8,"v":10},{"x":2,"y":8,"v":10},{"x":3,"y":8,"v":10},{"x":4,"y":8,"v":7},{"x":5,"y":8,"v":5},{"x":6,"y":8,"v":8},{"x":7,"y":8,"v":1},{"x":8,"y":8,"v":1},{"x":9,"y":8,"v":1},{"x":10,"y":8,"v":8},{"x":11,"y":8,"v":5},{"x":12,"y":8,"v":7},{"x":13,"y":8,"v":10},{"x":14,"y":8,"v":10},{"x":15,"y":8,"v":12},{"x":16,"y":8,"v":13},{"x":17,"y":8,"v":16},{"x":18,"y":8,"v":16},{"x":19,"y":8,"v":18},{"x":20,"y":8,"v":19},{"x":50,"y":8,"v":19},{"x":51,"y":8,"v":19},{"x":52,"y":8,"v":19},{"x":53,"y":8,"v":19},{"x":54,"y":8,"v":19},{"x":55,"y":8,"v":19},{"x":56,"y":8,"v":19},{"x":57,"y":8,"v":19},{"x":59,"y":8,"v":19},{"x":60,"y":8,"v":13},{"x":61,"y":8,"v":13},{"x":62,"y":8,"v":19},{"x":63,"y":8,"v":16},{"x":65,"y":8,"v":14},
{"x":1,"y":7,"v":10},{"x":2,"y":7,"v":10},{"x":3,"y":7,"v":7},{"x":4,"y":7,"v":5},{"x":5,"y":7,"v":8},{"x":6,"y":7,"v":1},{"x":7,"y":7,"v":1},{"x":8,"y":7,"v":1},{"x":9,"y":7,"v":8},{"x":10,"y":7,"v":5},{"x":11,"y":7,"v":7},{"x":12,"y":7,"v":10},{"x":13,"y":7,"v":12},{"x":14,"y":7,"v":10},{"x":15,"y":7,"v":13},{"x":16,"y":7,"v":16},{"x":17,"y":7,"v":16},{"x":18,"y":7,"v":17},{"x":19,"y":7,"v":19},{"x":24,"y":7,"v":18},{"x":60,"y":7,"v":19},{"x":61,"y":7,"v":19},{"x":63,"y":7,"v":19},{"x":64,"y":7,"v":13},
{"x":1,"y":6,"v":9},{"x":2,"y":6,"v":7},{"x":3,"y":6,"v":5},{"x":4,"y":6,"v":8},{"x":5,"y":6,"v":1},{"x":6,"y":6,"v":1},{"x":7,"y":6,"v":1},{"x":8,"y":6,"v":8},{"x":9,"y":6,"v":5},{"x":10,"y":6,"v":7},{"x":11,"y":6,"v":10},{"x":12,"y":6,"v":10},{"x":13,"y":6,"v":10},{"x":14,"y":6,"v":13},{"x":15,"y":6,"v":16},{"x":16,"y":6,"v":16},{"x":17,"y":6,"v":16},{"x":18,"y":6,"v":19},{"x":61,"y":6,"v":18},
{"x":1,"y":5,"v":7},{"x":2,"y":5,"v":5},{"x":3,"y":5,"v":8},{"x":4,"y":5,"v":1},{"x":5,"y":5,"v":1},{"x":6,"y":5,"v":1},{"x":7,"y":5,"v":8},{"x":8,"y":5,"v":5},{"x":9,"y":5,"v":7},{"x":10,"y":5,"v":10},{"x":11,"y":5,"v":10},{"x":12,"y":5,"v":10},{"x":13,"y":5,"v":13},{"x":14,"y":5,"v":16},{"x":15,"y":5,"v":16},{"x":16,"y":5,"v":17},{"x":17,"y":5,"v":19},{"x":61,"y":5,"v":19},
{"x":1,"y":4,"v":5},{"x":2,"y":4,"v":8},{"x":3,"y":4,"v":1},{"x":4,"y":4,"v":1},{"x":5,"y":4,"v":1},{"x":6,"y":4,"v":8},{"x":7,"y":4,"v":5},{"x":8,"y":4,"v":7},{"x":9,"y":4,"v":10},{"x":10,"y":4,"v":10},{"x":11,"y":4,"v":10},{"x":12,"y":4,"v":13},{"x":13,"y":4,"v":16},{"x":14,"y":4,"v":16},{"x":15,"y":4,"v":17},{"x":16,"y":4,"v":19},{"x":60,"y":4,"v":19},{"x":61,"y":4,"v":19},{"x":62,"y":4,"v":19},{"x":63,"y":4,"v":19},
{"x":1,"y":3,"v":8},{"x":2,"y":3,"v":1},{"x":3,"y":3,"v":1},{"x":4,"y":3,"v":1},{"x":5,"y":3,"v":8},{"x":6,"y":3,"v":5},{"x":7,"y":3,"v":7},{"x":8,"y":3,"v":10},{"x":9,"y":3,"v":10},{"x":10,"y":3,"v":10},{"x":11,"y":3,"v":13},{"x":12,"y":3,"v":16},{"x":13,"y":3,"v":16},{"x":14,"y":3,"v":17},{"x":15,"y":3,"v":18},{"x":61,"y":3,"v":19},{"x":62,"y":3,"v":19},
{"x":1,"y":2,"v":1},{"x":2,"y":2,"v":1},{"x":3,"y":2,"v":1},{"x":4,"y":2,"v":8},{"x":5,"y":2,"v":5},{"x":6,"y":2,"v":7},{"x":7,"y":2,"v":10},{"x":8,"y":2,"v":10},{"x":9,"y":2,"v":10},{"x":10,"y":2,"v":13},{"x":11,"y":2,"v":16},{"x":12,"y":2,"v":16},{"x":13,"y":2,"v":17},{"x":14,"y":2,"v":19},{"x":60,"y":2,"v":19},{"x":61,"y":2,"v":19},
{"x":1,"y":1,"v":1},{"x":2,"y":1,"v":1},{"x":3,"y":1,"v":8},{"x":4,"y":1,"v":5},{"x":5,"y":1,"v":7},{"x":6,"y":1,"v":10},{"x":7,"y":1,"v":10},{"x":8,"y":1,"v":10},{"x":9,"y":1,"v":13},{"x":10,"y":1,"v":16},{"x":11,"y":1,"v":16},{"x":12,"y":1,"v":17},{"x":13,"y":1,"v":19}
],"bar":[{"lo":0.8,"hi":2.08,"v":1},{"lo":2.08,"hi":3.36,"v":3},{"lo":3.36,"hi":4.64,"v":4},{"lo":4.64,"hi":5.92,"v":5},{"lo":5.92,"hi":7.2,"v":7},{"lo":7.2,"hi":8.48,"v":8},{"lo":8.48,"hi":9.76,"v":9},{"lo":9.76,"hi":11.04,"v":10},{"lo":11.04,"hi":12.32,"v":12},{"lo":12.32,"hi":13.6,"v":13},{"lo":13.6,"hi":14.88,"v":14},{"lo":14.88,"hi":16.16,"v":16},{"lo":16.16,"hi":17.44,"v":17},{"lo":17.44,"hi":18.72,"v":18},{"lo":18.72,"hi":20,"v":19},{"lo":20,"hi":21.28,"v":21}],"corner":[{"x":1,"y":1}]},
"hconcat":[{"width":1696,"height":1697,"view":{"fill":"#0000ff","stroke":"#444444","strokeWidth":1},"layer":[
{"data":{"name":"cells"},"mark":{"type":"rect","strokeWidth":0.4},"encoding":{
"x":{"field":"x","type":"ordinal","title":"Residue index","scale":{"paddingInner":0,"paddingOuter":0,"domain":[1,2,3,4,5,6,7,8,9,10,11,12,13,14,15,16,17,18,19,20,21,22,23,24,25,26,27,28,29,30,31,32,33,34,35,36,37,38,39,40,41,42,43,44,45,46,47,48,49,50,51,52,53,54,55,56,57,58,59,60,61,62,63,64,65,66,67]},"axis":{"orient":"bottom","values":[10,20,30,40,50,60],"labelAngle":0,"labelFontSize":58,"titleFontSize":59,"labelPadding":0,"titlePadding":-4}},
"y":{"field":"y","type":"ordinal","title":"Residue index","scale":{"paddingInner":0,"paddingOuter":0,"domain":[67,66,65,64,63,62,61,60,59,58,57,56,55,54,53,52,51,50,49,48,47,46,45,44,43,42,41,40,39,38,37,36,35,34,33,32,31,30,29,28,27,26,25,24,23,22,21,20,19,18,17,16,15,14,13,12,11,10,9,8,7,6,5,4,3,2,1]},"axis":{"orient":"left","values":[10,20,30,40,50,60],"labelFontSize":58,"titleFontSize":59,"labelPadding":5,"titlePadding":2}},
"color":{"field":"v","type":"quantitative","legend":null,"scale":{"type":"threshold","domain":[2.08,3.36,4.64,5.92,7.2,8.48,9.76,11.04,12.32,13.6,14.88,16.16,17.44,18.72,20],"range":["#ff0000","#ff2000","#ff4500","#ff6600","#ff8c00","#ffa500","#a9c280","#9ebb87","#93b38f","#88ac96","#7da59e","#729da5","#6a96ad","#5f8db4","#5585ba","#0000ff"]}},
"stroke":{"field":"v","type":"quantitative","legend":null,"scale":{"type":"threshold","domain":[2.08,3.36,4.64,5.92,7.2,8.48,9.76,11.04,12.32,13.6,14.88,16.16,17.44,18.72,20],"range":["#ff0000","#ff2000","#ff4500","#ff6600","#ff8c00","#ffa500","#a9c280","#9ebb87","#93b38f","#88ac96","#7da59e","#729da5","#6a96ad","#5f8db4","#5585ba","#0000ff"]}}}},
{"data":{"name":"corner"},"mark":{"type":"point","opacity":0},"encoding":{
"x":{"field":"x","type":"ordinal","title":null,"axis":{"orient":"top","values":[10,20,30,40,50,60],"labels":false,"title":null}},
"y":{"field":"y","type":"ordinal","title":null,"axis":{"orient":"right","values":[10,20,30,40,50,60],"labels":false,"title":null}}}}
],"resolve":{"axis":{"x":"independent","y":"independent"}}},
{"data":{"name":"bar"},"width":13,"height":1697,"view":{"stroke":"#444444","strokeWidth":1},"mark":{"type":"rect"},"encoding":{
"y":{"field":"lo","type":"quantitative","scale":{"domain":[0.8,21.28],"nice":false,"zero":false},"title":null,"axis":{"orient":"right","values":[5,10,15,20],"labelFontSize":49,"labelPadding":3,"tickSize":5,"format":"d"}},
"y2":{"field":"hi"},
"color":{"field":"v","type":"quantitative","legend":null,"scale":{"type":"threshold","domain":[2.08,3.36,4.64,5.92,7.2,8.48,9.76,11.04,12.32,13.6,14.88,16.16,17.44,18.72,20],"range":["#ff0000","#ff2000","#ff4500","#ff6600","#ff8c00","#ffa500","#a9c280","#9ebb87","#93b38f","#88ac96","#7da59e","#729da5","#6a96ad","#5f8db4","#5585ba","#0000ff"]}}}}
],"resolve":{"scale":{"color":"independent","stroke":"independent"}}}
